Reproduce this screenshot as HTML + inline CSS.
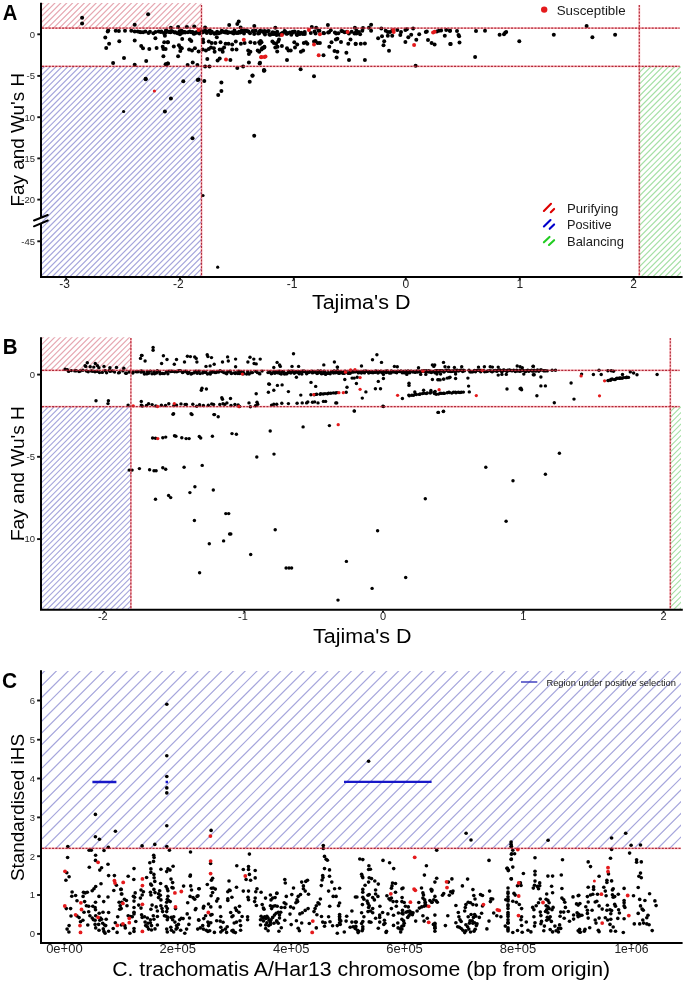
<!DOCTYPE html><html><head><meta charset="utf-8"><style>html,body{margin:0;padding:0;background:#fff;width:685px;height:983px;overflow:hidden}svg{display:block;will-change:transform}text{font-family:"Liberation Sans", sans-serif}.dash{stroke:#b02838;stroke-width:1.1;stroke-dasharray:2 1.35;fill:none}.dashbg{stroke:#f01020;stroke-opacity:0.32;stroke-width:1.8;fill:none}.ax{stroke:#000;stroke-width:2;fill:none}.tk{stroke:#111;stroke-width:1.9;fill:none}</style></head><body>
<svg width="685" height="983" viewBox="0 0 685 983">
<rect width="685" height="983" fill="#fff"/>
<clipPath id="c3"><rect x="42.00" y="3.00" width="159.50" height="25.10"/></clipPath>
<g clip-path="url(#c3)" stroke="#e6a8b2" stroke-width="1.20" opacity="1.00">
<path d="M10.17 30.10L39.27 1.00M16.06 30.10L45.16 1.00M21.95 30.10L51.05 1.00M27.84 30.10L56.94 1.00M33.73 30.10L62.83 1.00M39.62 30.10L68.72 1.00M45.51 30.10L74.61 1.00M51.40 30.10L80.50 1.00M57.29 30.10L86.39 1.00M63.18 30.10L92.28 1.00M69.07 30.10L98.17 1.00M74.96 30.10L104.06 1.00M80.85 30.10L109.95 1.00M86.74 30.10L115.84 1.00M92.63 30.10L121.73 1.00M98.52 30.10L127.62 1.00M104.41 30.10L133.51 1.00M110.30 30.10L139.40 1.00M116.19 30.10L145.29 1.00M122.08 30.10L151.18 1.00M127.97 30.10L157.07 1.00M133.86 30.10L162.96 1.00M139.75 30.10L168.85 1.00M145.64 30.10L174.74 1.00M151.53 30.10L180.63 1.00M157.42 30.10L186.52 1.00M163.31 30.10L192.41 1.00M169.20 30.10L198.30 1.00M175.09 30.10L204.19 1.00M180.98 30.10L210.08 1.00M186.87 30.10L215.97 1.00M192.76 30.10L221.86 1.00M198.65 30.10L227.75 1.00M204.54 30.10L233.64 1.00" fill="none"/>
</g>
<clipPath id="c4"><rect x="42.00" y="66.40" width="159.50" height="209.60"/></clipPath>
<g clip-path="url(#c4)" stroke="#a6a6dc" stroke-width="1.20" opacity="1.00">
<path d="M-172.94 278.00L40.66 64.40M-167.05 278.00L46.55 64.40M-161.16 278.00L52.44 64.40M-155.27 278.00L58.33 64.40M-149.38 278.00L64.22 64.40M-143.49 278.00L70.11 64.40M-137.60 278.00L76.00 64.40M-131.71 278.00L81.89 64.40M-125.82 278.00L87.78 64.40M-119.93 278.00L93.67 64.40M-114.04 278.00L99.56 64.40M-108.15 278.00L105.45 64.40M-102.26 278.00L111.34 64.40M-96.37 278.00L117.23 64.40M-90.48 278.00L123.12 64.40M-84.59 278.00L129.01 64.40M-78.70 278.00L134.90 64.40M-72.81 278.00L140.79 64.40M-66.92 278.00L146.68 64.40M-61.03 278.00L152.57 64.40M-55.14 278.00L158.46 64.40M-49.25 278.00L164.35 64.40M-43.36 278.00L170.24 64.40M-37.47 278.00L176.13 64.40M-31.58 278.00L182.02 64.40M-25.69 278.00L187.91 64.40M-19.80 278.00L193.80 64.40M-13.91 278.00L199.69 64.40M-8.02 278.00L205.58 64.40M-2.13 278.00L211.47 64.40M3.76 278.00L217.36 64.40M9.65 278.00L223.25 64.40M15.54 278.00L229.14 64.40M21.43 278.00L235.03 64.40M27.32 278.00L240.92 64.40M33.21 278.00L246.81 64.40M39.10 278.00L252.70 64.40M44.99 278.00L258.59 64.40M50.88 278.00L264.48 64.40M56.77 278.00L270.37 64.40M62.66 278.00L276.26 64.40M68.55 278.00L282.15 64.40M74.44 278.00L288.04 64.40M80.33 278.00L293.93 64.40M86.22 278.00L299.82 64.40M92.11 278.00L305.71 64.40M98.00 278.00L311.60 64.40M103.89 278.00L317.49 64.40M109.78 278.00L323.38 64.40M115.67 278.00L329.27 64.40M121.56 278.00L335.16 64.40M127.45 278.00L341.05 64.40M133.34 278.00L346.94 64.40M139.23 278.00L352.83 64.40M145.12 278.00L358.72 64.40M151.01 278.00L364.61 64.40M156.90 278.00L370.50 64.40M162.79 278.00L376.39 64.40M168.68 278.00L382.28 64.40M174.57 278.00L388.17 64.40M180.46 278.00L394.06 64.40M186.35 278.00L399.95 64.40M192.24 278.00L405.84 64.40M198.13 278.00L411.73 64.40M204.02 278.00L417.62 64.40" fill="none"/>
</g>
<clipPath id="c5"><rect x="639.00" y="66.40" width="42.00" height="209.60"/></clipPath>
<g clip-path="url(#c5)" stroke="#a6e0a6" stroke-width="1.20" opacity="1.00">
<path d="M421.95 278.00L635.55 64.40M427.84 278.00L641.44 64.40M433.73 278.00L647.33 64.40M439.62 278.00L653.22 64.40M445.51 278.00L659.11 64.40M451.40 278.00L665.00 64.40M457.29 278.00L670.89 64.40M463.18 278.00L676.78 64.40M469.07 278.00L682.67 64.40M474.96 278.00L688.56 64.40M480.85 278.00L694.45 64.40M486.74 278.00L700.34 64.40M492.63 278.00L706.23 64.40M498.52 278.00L712.12 64.40M504.41 278.00L718.01 64.40M510.30 278.00L723.90 64.40M516.19 278.00L729.79 64.40M522.08 278.00L735.68 64.40M527.97 278.00L741.57 64.40M533.86 278.00L747.46 64.40M539.75 278.00L753.35 64.40M545.64 278.00L759.24 64.40M551.53 278.00L765.13 64.40M557.42 278.00L771.02 64.40M563.31 278.00L776.91 64.40M569.20 278.00L782.80 64.40M575.09 278.00L788.69 64.40M580.98 278.00L794.58 64.40M586.87 278.00L800.47 64.40M592.76 278.00L806.36 64.40M598.65 278.00L812.25 64.40M604.54 278.00L818.14 64.40M610.43 278.00L824.03 64.40M616.32 278.00L829.92 64.40M622.21 278.00L835.81 64.40M628.10 278.00L841.70 64.40M633.99 278.00L847.59 64.40M639.88 278.00L853.48 64.40M645.77 278.00L859.37 64.40M651.66 278.00L865.26 64.40M657.55 278.00L871.15 64.40M663.44 278.00L877.04 64.40M669.33 278.00L882.93 64.40M675.22 278.00L888.82 64.40M681.11 278.00L894.71 64.40" fill="none"/>
</g>
<g fill="#000"><circle cx="82.1" cy="17.8" r="2.00"/><circle cx="82.1" cy="23.4" r="2.00"/><circle cx="148.1" cy="14.3" r="2.00"/><circle cx="134.7" cy="24.8" r="2.00"/><circle cx="108.2" cy="30.4" r="2.00"/><circle cx="107.7" cy="31.4" r="2.00"/><circle cx="115.7" cy="30.7" r="2.00"/><circle cx="118.9" cy="30.9" r="2.00"/><circle cx="125.0" cy="30.7" r="2.00"/><circle cx="131.3" cy="30.7" r="2.00"/><circle cx="134.7" cy="31.6" r="2.00"/><circle cx="137.7" cy="31.4" r="2.00"/><circle cx="139.7" cy="32.0" r="2.00"/><circle cx="140.9" cy="32.3" r="2.00"/><circle cx="143.1" cy="32.2" r="2.00"/><circle cx="145.4" cy="31.5" r="2.00"/><circle cx="148.5" cy="33.0" r="2.00"/><circle cx="150.0" cy="31.7" r="2.00"/><circle cx="153.4" cy="33.2" r="2.00"/><circle cx="155.5" cy="32.1" r="2.00"/><circle cx="158.7" cy="31.4" r="2.00"/><circle cx="160.7" cy="31.9" r="2.00"/><circle cx="161.3" cy="31.5" r="2.00"/><circle cx="163.9" cy="32.9" r="2.00"/><circle cx="165.9" cy="32.5" r="2.00"/><circle cx="169.2" cy="32.0" r="2.00"/><circle cx="105.3" cy="37.4" r="2.00"/><circle cx="109.1" cy="43.8" r="2.00"/><circle cx="106.2" cy="47.9" r="2.00"/><circle cx="119.3" cy="41.3" r="2.00"/><circle cx="134.7" cy="40.4" r="2.00"/><circle cx="155.4" cy="38.2" r="2.00"/><circle cx="164.9" cy="35.8" r="2.00"/><circle cx="141.2" cy="46.0" r="2.00"/><circle cx="143.0" cy="48.2" r="2.00"/><circle cx="149.3" cy="48.9" r="2.00"/><circle cx="156.6" cy="47.9" r="2.00"/><circle cx="162.7" cy="46.7" r="2.00"/><circle cx="163.4" cy="48.9" r="2.00"/><circle cx="165.6" cy="48.9" r="2.00"/><circle cx="164.2" cy="42.3" r="2.00"/><circle cx="167.8" cy="42.3" r="2.00"/><circle cx="124.0" cy="58.1" r="2.00"/><circle cx="113.1" cy="63.1" r="2.00"/><circle cx="134.7" cy="64.7" r="2.00"/><circle cx="146.2" cy="61.0" r="2.00"/><circle cx="163.4" cy="56.2" r="2.00"/><circle cx="165.6" cy="64.2" r="2.00"/><circle cx="167.8" cy="63.5" r="2.00"/><circle cx="145.6" cy="78.8" r="2.00"/><circle cx="170.8" cy="27.7" r="2.00"/><circle cx="178.1" cy="27.0" r="2.00"/><circle cx="186.9" cy="27.0" r="2.00"/><circle cx="194.2" cy="26.6" r="2.00"/><circle cx="205.1" cy="27.4" r="2.00"/><circle cx="229.2" cy="25.1" r="2.00"/><circle cx="237.3" cy="24.1" r="2.00"/><circle cx="238.7" cy="21.6" r="2.00"/><circle cx="240.6" cy="27.4" r="2.00"/><circle cx="254.3" cy="26.0" r="2.00"/><circle cx="165.9" cy="30.6" r="2.00"/><circle cx="166.8" cy="31.1" r="2.00"/><circle cx="169.5" cy="31.8" r="2.00"/><circle cx="170.5" cy="32.3" r="2.00"/><circle cx="172.4" cy="31.4" r="2.00"/><circle cx="174.7" cy="32.6" r="2.00"/><circle cx="175.4" cy="32.2" r="2.00"/><circle cx="177.5" cy="33.2" r="2.00"/><circle cx="179.5" cy="31.3" r="2.00"/><circle cx="181.6" cy="30.8" r="2.00"/><circle cx="182.4" cy="32.8" r="2.00"/><circle cx="183.6" cy="32.0" r="2.00"/><circle cx="185.1" cy="32.5" r="2.00"/><circle cx="187.9" cy="32.2" r="2.00"/><circle cx="189.8" cy="31.4" r="2.00"/><circle cx="191.2" cy="32.3" r="2.00"/><circle cx="192.6" cy="31.9" r="2.00"/><circle cx="194.7" cy="33.4" r="2.00"/><circle cx="195.8" cy="32.5" r="2.00"/><circle cx="196.8" cy="32.6" r="2.00"/><circle cx="199.4" cy="33.6" r="2.00"/><circle cx="201.4" cy="31.3" r="2.00"/><circle cx="202.3" cy="32.5" r="2.00"/><circle cx="203.4" cy="31.9" r="2.00"/><circle cx="205.3" cy="30.8" r="2.00"/><circle cx="206.8" cy="32.9" r="2.00"/><circle cx="208.5" cy="31.2" r="2.00"/><circle cx="210.7" cy="33.2" r="2.00"/><circle cx="211.8" cy="31.8" r="2.00"/><circle cx="214.2" cy="33.2" r="2.00"/><circle cx="216.4" cy="33.2" r="2.00"/><circle cx="217.1" cy="31.7" r="2.00"/><circle cx="218.9" cy="33.2" r="2.00"/><circle cx="221.6" cy="30.9" r="2.00"/><circle cx="222.0" cy="31.1" r="2.00"/><circle cx="223.7" cy="32.0" r="2.00"/><circle cx="226.0" cy="31.2" r="2.00"/><circle cx="226.7" cy="31.7" r="2.00"/><circle cx="228.9" cy="32.2" r="2.00"/><circle cx="231.6" cy="32.6" r="2.00"/><circle cx="232.5" cy="32.4" r="2.00"/><circle cx="234.5" cy="30.6" r="2.00"/><circle cx="236.5" cy="32.9" r="2.00"/><circle cx="238.1" cy="33.0" r="2.00"/><circle cx="239.0" cy="31.7" r="2.00"/><circle cx="240.2" cy="32.4" r="2.00"/><circle cx="241.8" cy="30.6" r="2.00"/><circle cx="243.7" cy="30.9" r="2.00"/><circle cx="245.6" cy="30.6" r="2.00"/><circle cx="246.7" cy="30.9" r="2.00"/><circle cx="248.5" cy="31.6" r="2.00"/><circle cx="250.0" cy="33.2" r="2.00"/><circle cx="252.7" cy="30.9" r="2.00"/><circle cx="253.8" cy="31.5" r="2.00"/><circle cx="255.6" cy="30.8" r="2.00"/><circle cx="258.1" cy="33.6" r="2.00"/><circle cx="259.1" cy="31.9" r="2.00"/><circle cx="260.1" cy="30.7" r="2.00"/><circle cx="262.2" cy="31.2" r="2.00"/><circle cx="264.7" cy="30.9" r="2.00"/><circle cx="167.9" cy="42.3" r="2.00"/><circle cx="182.2" cy="39.1" r="2.00"/><circle cx="189.8" cy="39.4" r="2.00"/><circle cx="191.3" cy="40.9" r="2.00"/><circle cx="173.8" cy="46.4" r="2.00"/><circle cx="178.9" cy="45.3" r="2.00"/><circle cx="180.3" cy="47.4" r="2.00"/><circle cx="181.8" cy="48.2" r="2.00"/><circle cx="180.3" cy="51.1" r="2.00"/><circle cx="189.1" cy="49.6" r="2.00"/><circle cx="192.0" cy="50.4" r="2.00"/><circle cx="194.9" cy="48.2" r="2.00"/><circle cx="198.6" cy="51.4" r="2.00"/><circle cx="178.1" cy="56.2" r="2.00"/><circle cx="167.9" cy="63.5" r="2.00"/><circle cx="166.5" cy="64.2" r="2.00"/><circle cx="187.6" cy="65.0" r="2.00"/><circle cx="192.7" cy="62.5" r="2.00"/><circle cx="197.4" cy="65.0" r="2.00"/><circle cx="203.0" cy="39.4" r="2.00"/><circle cx="203.2" cy="42.3" r="2.00"/><circle cx="208.8" cy="41.6" r="2.00"/><circle cx="211.7" cy="43.1" r="2.00"/><circle cx="215.4" cy="43.1" r="2.00"/><circle cx="220.5" cy="42.3" r="2.00"/><circle cx="216.8" cy="37.2" r="2.00"/><circle cx="225.6" cy="43.8" r="2.00"/><circle cx="228.5" cy="43.8" r="2.00"/><circle cx="232.2" cy="44.5" r="2.00"/><circle cx="235.8" cy="41.6" r="2.00"/><circle cx="240.9" cy="43.8" r="2.00"/><circle cx="244.6" cy="43.1" r="2.00"/><circle cx="250.4" cy="42.3" r="2.00"/><circle cx="254.8" cy="43.1" r="2.00"/><circle cx="259.2" cy="42.3" r="2.00"/><circle cx="260.6" cy="40.9" r="2.00"/><circle cx="202.7" cy="49.6" r="2.00"/><circle cx="205.9" cy="50.4" r="2.00"/><circle cx="208.8" cy="48.9" r="2.00"/><circle cx="211.0" cy="47.4" r="2.00"/><circle cx="213.9" cy="48.2" r="2.00"/><circle cx="214.6" cy="51.8" r="2.00"/><circle cx="219.7" cy="49.6" r="2.00"/><circle cx="222.7" cy="51.8" r="2.00"/><circle cx="224.1" cy="47.4" r="2.00"/><circle cx="221.9" cy="49.6" r="2.00"/><circle cx="232.2" cy="49.6" r="2.00"/><circle cx="236.5" cy="49.6" r="2.00"/><circle cx="248.2" cy="50.4" r="2.00"/><circle cx="250.4" cy="51.8" r="2.00"/><circle cx="248.9" cy="54.0" r="2.00"/><circle cx="257.7" cy="50.4" r="2.00"/><circle cx="259.2" cy="51.8" r="2.00"/><circle cx="262.1" cy="48.2" r="2.00"/><circle cx="264.3" cy="47.4" r="2.00"/><circle cx="207.3" cy="59.1" r="2.00"/><circle cx="217.6" cy="60.6" r="2.00"/><circle cx="219.7" cy="58.4" r="2.00"/><circle cx="230.4" cy="59.9" r="2.00"/><circle cx="248.9" cy="62.5" r="2.00"/><circle cx="259.6" cy="63.5" r="2.00"/><circle cx="205.1" cy="66.4" r="2.00"/><circle cx="209.5" cy="66.4" r="2.00"/><circle cx="237.3" cy="67.9" r="2.00"/><circle cx="243.1" cy="66.4" r="2.00"/><circle cx="252.6" cy="75.6" r="2.00"/><circle cx="264.0" cy="70.0" r="2.00"/><circle cx="198.6" cy="79.6" r="2.00"/><circle cx="275.3" cy="27.7" r="2.00"/><circle cx="311.8" cy="27.0" r="2.00"/><circle cx="316.2" cy="27.7" r="2.00"/><circle cx="327.9" cy="25.1" r="2.00"/><circle cx="354.9" cy="27.7" r="2.00"/><circle cx="265.0" cy="34.6" r="2.00"/><circle cx="267.2" cy="31.4" r="2.00"/><circle cx="268.7" cy="30.9" r="2.00"/><circle cx="270.2" cy="34.7" r="2.00"/><circle cx="272.1" cy="33.6" r="2.00"/><circle cx="272.7" cy="32.3" r="2.00"/><circle cx="274.0" cy="33.9" r="2.00"/><circle cx="276.0" cy="33.9" r="2.00"/><circle cx="277.2" cy="31.7" r="2.00"/><circle cx="279.4" cy="34.7" r="2.00"/><circle cx="280.9" cy="34.0" r="2.00"/><circle cx="282.3" cy="33.8" r="2.00"/><circle cx="282.9" cy="32.9" r="2.00"/><circle cx="284.6" cy="30.9" r="2.00"/><circle cx="285.5" cy="31.9" r="2.00"/><circle cx="287.3" cy="33.6" r="2.00"/><circle cx="289.8" cy="32.6" r="2.00"/><circle cx="291.3" cy="34.8" r="2.00"/><circle cx="292.8" cy="32.3" r="2.00"/><circle cx="293.1" cy="31.7" r="2.00"/><circle cx="294.6" cy="31.6" r="2.00"/><circle cx="296.7" cy="34.4" r="2.00"/><circle cx="298.4" cy="32.7" r="2.00"/><circle cx="299.6" cy="34.0" r="2.00"/><circle cx="300.3" cy="33.4" r="2.00"/><circle cx="302.9" cy="33.9" r="2.00"/><circle cx="304.2" cy="32.7" r="2.00"/><circle cx="304.8" cy="34.0" r="2.00"/><circle cx="310.8" cy="33.1" r="2.00"/><circle cx="314.5" cy="31.6" r="2.00"/><circle cx="315.5" cy="33.6" r="2.00"/><circle cx="318.5" cy="30.8" r="2.00"/><circle cx="319.4" cy="30.7" r="2.00"/><circle cx="323.4" cy="33.1" r="2.00"/><circle cx="324.0" cy="33.2" r="2.00"/><circle cx="328.1" cy="32.6" r="2.00"/><circle cx="329.0" cy="32.2" r="2.00"/><circle cx="330.8" cy="30.3" r="2.00"/><circle cx="334.9" cy="32.5" r="2.00"/><circle cx="336.2" cy="33.6" r="2.00"/><circle cx="338.3" cy="33.3" r="2.00"/><circle cx="341.4" cy="31.0" r="2.00"/><circle cx="342.4" cy="31.3" r="2.00"/><circle cx="344.6" cy="32.3" r="2.00"/><circle cx="347.0" cy="31.7" r="2.00"/><circle cx="348.9" cy="33.5" r="2.00"/><circle cx="351.7" cy="31.8" r="2.00"/><circle cx="354.5" cy="33.5" r="2.00"/><circle cx="356.4" cy="33.5" r="2.00"/><circle cx="358.9" cy="32.1" r="2.00"/><circle cx="261.5" cy="42.3" r="2.00"/><circle cx="260.0" cy="43.8" r="2.00"/><circle cx="272.4" cy="41.6" r="2.00"/><circle cx="273.9" cy="43.1" r="2.00"/><circle cx="276.1" cy="43.8" r="2.00"/><circle cx="279.0" cy="39.4" r="2.00"/><circle cx="278.2" cy="41.6" r="2.00"/><circle cx="264.4" cy="46.7" r="2.00"/><circle cx="262.9" cy="48.2" r="2.00"/><circle cx="261.5" cy="49.6" r="2.00"/><circle cx="275.3" cy="47.4" r="2.00"/><circle cx="277.5" cy="46.7" r="2.00"/><circle cx="281.9" cy="46.0" r="2.00"/><circle cx="277.2" cy="51.4" r="2.00"/><circle cx="287.0" cy="48.2" r="2.00"/><circle cx="288.5" cy="50.4" r="2.00"/><circle cx="290.7" cy="50.4" r="2.00"/><circle cx="294.3" cy="42.3" r="2.00"/><circle cx="297.2" cy="44.5" r="2.00"/><circle cx="295.0" cy="47.4" r="2.00"/><circle cx="303.8" cy="43.1" r="2.00"/><circle cx="306.0" cy="42.3" r="2.00"/><circle cx="307.4" cy="43.8" r="2.00"/><circle cx="300.9" cy="51.8" r="2.00"/><circle cx="303.1" cy="50.4" r="2.00"/><circle cx="314.0" cy="41.6" r="2.00"/><circle cx="315.5" cy="40.9" r="2.00"/><circle cx="317.7" cy="43.1" r="2.00"/><circle cx="319.9" cy="43.1" r="2.00"/><circle cx="331.5" cy="42.3" r="2.00"/><circle cx="329.3" cy="46.7" r="2.00"/><circle cx="335.9" cy="39.4" r="2.00"/><circle cx="337.4" cy="38.7" r="2.00"/><circle cx="341.0" cy="42.0" r="2.00"/><circle cx="350.5" cy="39.4" r="2.00"/><circle cx="348.3" cy="43.8" r="2.00"/><circle cx="355.6" cy="43.8" r="2.00"/><circle cx="334.5" cy="51.1" r="2.00"/><circle cx="337.4" cy="51.8" r="2.00"/><circle cx="346.4" cy="52.8" r="2.00"/><circle cx="336.6" cy="57.4" r="2.00"/><circle cx="349.0" cy="60.1" r="2.00"/><circle cx="323.5" cy="55.2" r="2.00"/><circle cx="287.0" cy="59.9" r="2.00"/><circle cx="260.0" cy="62.8" r="2.00"/><circle cx="264.4" cy="70.4" r="2.00"/><circle cx="300.6" cy="69.3" r="2.00"/><circle cx="314.0" cy="76.2" r="2.00"/><circle cx="371.1" cy="24.8" r="2.00"/><circle cx="368.9" cy="27.7" r="2.00"/><circle cx="363.0" cy="28.0" r="2.00"/><circle cx="356.5" cy="30.7" r="2.00"/><circle cx="355.7" cy="32.8" r="2.00"/><circle cx="362.3" cy="30.7" r="2.00"/><circle cx="360.1" cy="34.3" r="2.00"/><circle cx="371.1" cy="30.7" r="2.00"/><circle cx="381.3" cy="28.5" r="2.00"/><circle cx="385.7" cy="30.7" r="2.00"/><circle cx="387.8" cy="32.1" r="2.00"/><circle cx="390.0" cy="32.1" r="2.00"/><circle cx="392.2" cy="30.7" r="2.00"/><circle cx="397.3" cy="29.9" r="2.00"/><circle cx="401.0" cy="32.1" r="2.00"/><circle cx="400.3" cy="35.0" r="2.00"/><circle cx="405.4" cy="29.9" r="2.00"/><circle cx="406.8" cy="29.2" r="2.00"/><circle cx="413.1" cy="28.5" r="2.00"/><circle cx="411.2" cy="34.7" r="2.00"/><circle cx="408.3" cy="37.2" r="2.00"/><circle cx="419.2" cy="34.3" r="2.00"/><circle cx="425.8" cy="32.1" r="2.00"/><circle cx="426.8" cy="31.4" r="2.00"/><circle cx="436.8" cy="31.4" r="2.00"/><circle cx="438.9" cy="30.7" r="2.00"/><circle cx="441.1" cy="30.4" r="2.00"/><circle cx="446.2" cy="29.9" r="2.00"/><circle cx="449.9" cy="30.7" r="2.00"/><circle cx="444.8" cy="35.8" r="2.00"/><circle cx="382.0" cy="36.2" r="2.00"/><circle cx="378.1" cy="38.2" r="2.00"/><circle cx="387.8" cy="35.8" r="2.00"/><circle cx="392.2" cy="35.8" r="2.00"/><circle cx="384.2" cy="41.2" r="2.00"/><circle cx="383.5" cy="45.3" r="2.00"/><circle cx="360.8" cy="43.8" r="2.00"/><circle cx="364.9" cy="43.5" r="2.00"/><circle cx="355.7" cy="44.1" r="2.00"/><circle cx="405.4" cy="42.0" r="2.00"/><circle cx="416.3" cy="39.7" r="2.00"/><circle cx="428.0" cy="40.1" r="2.00"/><circle cx="431.6" cy="43.1" r="2.00"/><circle cx="434.6" cy="44.5" r="2.00"/><circle cx="450.2" cy="44.1" r="2.00"/><circle cx="389.0" cy="50.8" r="2.00"/><circle cx="364.9" cy="59.9" r="2.00"/><circle cx="415.6" cy="65.7" r="2.00"/><circle cx="450.0" cy="30.7" r="2.00"/><circle cx="457.0" cy="30.9" r="2.00"/><circle cx="458.5" cy="35.0" r="2.00"/><circle cx="459.1" cy="36.2" r="2.00"/><circle cx="450.7" cy="44.1" r="2.00"/><circle cx="459.5" cy="42.6" r="2.00"/><circle cx="476.0" cy="30.9" r="2.00"/><circle cx="485.0" cy="30.7" r="2.00"/><circle cx="499.6" cy="34.7" r="2.00"/><circle cx="504.0" cy="34.3" r="2.00"/><circle cx="506.2" cy="32.1" r="2.00"/><circle cx="505.2" cy="32.8" r="2.00"/><circle cx="519.3" cy="41.2" r="2.00"/><circle cx="475.1" cy="56.9" r="2.00"/><circle cx="553.8" cy="34.7" r="2.00"/><circle cx="586.6" cy="26.0" r="2.00"/><circle cx="592.4" cy="37.2" r="2.00"/><circle cx="615.1" cy="34.7" r="2.00"/><circle cx="145.7" cy="79.2" r="2.00"/><circle cx="183.3" cy="81.3" r="2.00"/><circle cx="197.7" cy="80.0" r="2.00"/><circle cx="204.3" cy="81.0" r="2.00"/><circle cx="170.9" cy="98.4" r="2.00"/><circle cx="164.9" cy="111.5" r="2.00"/><circle cx="192.5" cy="138.3" r="2.00"/><circle cx="221.4" cy="82.6" r="2.00"/><circle cx="221.4" cy="91.0" r="2.00"/><circle cx="218.2" cy="95.0" r="2.00"/><circle cx="252.4" cy="75.8" r="2.00"/><circle cx="249.7" cy="81.8" r="2.00"/><circle cx="263.9" cy="70.8" r="2.00"/><circle cx="254.2" cy="135.7" r="2.00"/><circle cx="123.6" cy="111.5" r="1.60"/><circle cx="203.0" cy="195.5" r="1.60"/><circle cx="217.7" cy="267.2" r="1.60"/><circle cx="269.4" cy="34.6" r="2.00"/><circle cx="272.8" cy="34.1" r="2.00"/><circle cx="274.4" cy="32.7" r="2.00"/><circle cx="276.6" cy="35.0" r="2.00"/><circle cx="280.7" cy="34.6" r="2.00"/><circle cx="282.0" cy="33.2" r="2.00"/><circle cx="286.4" cy="33.8" r="2.00"/><circle cx="287.3" cy="33.3" r="2.00"/><circle cx="292.1" cy="32.3" r="2.00"/><circle cx="292.9" cy="32.6" r="2.00"/><circle cx="297.1" cy="35.0" r="2.00"/><circle cx="298.3" cy="32.0" r="2.00"/><circle cx="301.2" cy="32.7" r="2.00"/><circle cx="304.7" cy="32.0" r="2.00"/><circle cx="171.6" cy="31.3" r="2.00"/><circle cx="179.4" cy="33.4" r="2.00"/><circle cx="180.0" cy="34.3" r="2.00"/><circle cx="184.7" cy="32.0" r="2.00"/><circle cx="193.7" cy="33.7" r="2.00"/><circle cx="197.2" cy="32.2" r="2.00"/><circle cx="199.4" cy="33.1" r="2.00"/><circle cx="203.8" cy="31.3" r="2.00"/><circle cx="209.8" cy="30.6" r="2.00"/><circle cx="214.6" cy="33.7" r="2.00"/><circle cx="220.8" cy="32.5" r="2.00"/><circle cx="225.3" cy="32.4" r="2.00"/><circle cx="227.7" cy="32.9" r="2.00"/><circle cx="233.7" cy="33.5" r="2.00"/><circle cx="240.8" cy="32.2" r="2.00"/><circle cx="244.0" cy="33.5" r="2.00"/><circle cx="248.0" cy="31.4" r="2.00"/><circle cx="254.2" cy="34.0" r="2.00"/><circle cx="259.2" cy="33.3" r="2.00"/><circle cx="264.3" cy="33.2" r="2.00"/></g>
<g fill="#e41a1c"><circle cx="198.6" cy="29.9" r="2.00"/><circle cx="243.8" cy="39.7" r="2.00"/><circle cx="226.0" cy="59.6" r="2.00"/><circle cx="261.1" cy="57.2" r="2.00"/><circle cx="264.3" cy="56.9" r="2.00"/><circle cx="308.9" cy="29.9" r="2.00"/><circle cx="281.9" cy="35.0" r="2.00"/><circle cx="319.9" cy="34.3" r="2.00"/><circle cx="347.6" cy="32.1" r="2.00"/><circle cx="314.0" cy="44.5" r="2.00"/><circle cx="318.7" cy="55.2" r="2.00"/><circle cx="261.5" cy="56.9" r="2.00"/><circle cx="265.5" cy="56.6" r="2.00"/><circle cx="393.3" cy="29.9" r="2.00"/><circle cx="393.7" cy="32.1" r="2.00"/><circle cx="433.1" cy="32.4" r="2.00"/><circle cx="434.6" cy="31.8" r="2.00"/><circle cx="414.1" cy="45.0" r="2.00"/><circle cx="154.4" cy="91.0" r="1.60"/></g>
<line x1="42.00" y1="28.10" x2="679.60" y2="28.10" class="dashbg"/><line x1="42.00" y1="28.10" x2="679.60" y2="28.10" class="dash"/>
<line x1="42.00" y1="66.40" x2="679.60" y2="66.40" class="dashbg"/><line x1="42.00" y1="66.40" x2="679.60" y2="66.40" class="dash"/>
<line x1="201.50" y1="4.90" x2="201.50" y2="276.00" class="dashbg"/><line x1="201.50" y1="4.90" x2="201.50" y2="276.00" class="dash"/>
<line x1="639.30" y1="4.90" x2="639.30" y2="276.00" class="dashbg"/><line x1="639.30" y1="4.90" x2="639.30" y2="276.00" class="dash"/>
<path class="ax" d="M41 2.8V217.7M41 223.5V277H682.6"/>
<path class="ax" d="M34 220.5L47.8 215M34 226.3L47.8 220.5" stroke-linecap="round"/>
<line class="tk" x1="37.3" y1="34.30" x2="40" y2="34.30"/>
<text x="35.00" y="37.65" font-size="9.50" fill="#2a2a2a" text-anchor="end" >0</text>
<line class="tk" x1="37.3" y1="75.90" x2="40" y2="75.90"/>
<text x="35.00" y="79.25" font-size="9.50" fill="#2a2a2a" text-anchor="end" >-5</text>
<line class="tk" x1="37.3" y1="117.20" x2="40" y2="117.20"/>
<text x="35.00" y="120.55" font-size="9.50" fill="#2a2a2a" text-anchor="end" >-10</text>
<line class="tk" x1="37.3" y1="158.40" x2="40" y2="158.40"/>
<text x="35.00" y="161.75" font-size="9.50" fill="#2a2a2a" text-anchor="end" >-15</text>
<line class="tk" x1="37.3" y1="199.60" x2="40" y2="199.60"/>
<text x="35.00" y="202.95" font-size="9.50" fill="#2a2a2a" text-anchor="end" >-20</text>
<line class="tk" x1="37.3" y1="241.30" x2="40" y2="241.30"/>
<text x="35.00" y="244.65" font-size="9.50" fill="#2a2a2a" text-anchor="end" >-45</text>
<line class="tk" x1="66.20" y1="278" x2="66.20" y2="280.5"/>
<text x="64.60" y="287.70" font-size="12.00" fill="#222" text-anchor="middle" >-3</text>
<line class="tk" x1="180.00" y1="278" x2="180.00" y2="280.5"/>
<text x="178.40" y="287.70" font-size="12.00" fill="#222" text-anchor="middle" >-2</text>
<line class="tk" x1="293.80" y1="278" x2="293.80" y2="280.5"/>
<text x="292.20" y="287.70" font-size="12.00" fill="#222" text-anchor="middle" >-1</text>
<line class="tk" x1="405.80" y1="278" x2="405.80" y2="280.5"/>
<text x="405.80" y="287.70" font-size="12.00" fill="#222" text-anchor="middle" >0</text>
<line class="tk" x1="519.80" y1="278" x2="519.80" y2="280.5"/>
<text x="519.80" y="287.70" font-size="12.00" fill="#222" text-anchor="middle" >1</text>
<line class="tk" x1="633.70" y1="278" x2="633.70" y2="280.5"/>
<text x="633.70" y="287.70" font-size="12.00" fill="#222" text-anchor="middle" >2</text>
<text x="311.90" y="308.90" font-size="20.00" fill="#000" text-anchor="start" textLength="98.60" lengthAdjust="spacingAndGlyphs" >Tajima&#39;s D</text>
<text x="24.00" y="206.50" font-size="18.80" fill="#000" text-anchor="start" textLength="133.60" lengthAdjust="spacingAndGlyphs" transform="rotate(-90 24.00 206.50)" >Fay and Wu&#39;s H</text>
<text x="2.80" y="19.60" font-size="22.00" fill="#000" text-anchor="start" font-weight="bold" textLength="14.60" lengthAdjust="spacingAndGlyphs" >A</text>
<circle cx="544.2" cy="9.6" r="3.2" fill="#e41a1c"/>
<text x="556.70" y="14.90" font-size="13.00" fill="#1a1a1a" text-anchor="start" textLength="69.00" lengthAdjust="spacingAndGlyphs" >Susceptible</text>
<path d="M543.9 211L551 203.8M550.8 212.2L554.1 208.9" stroke="#dd0000" stroke-width="2.1" stroke-linecap="round" fill="none"/>
<text x="567.00" y="212.60" font-size="13.00" fill="#1a1a1a" text-anchor="start" textLength="51.20" lengthAdjust="spacingAndGlyphs" >Purifying</text>
<path d="M543.9 226.5L550.5 220.1M549.7 228.8L554.1 224.4" stroke="#0000cc" stroke-width="2.1" stroke-linecap="round" fill="none"/>
<text x="567.00" y="228.99" font-size="13.00" fill="#1a1a1a" text-anchor="start" textLength="44.60" lengthAdjust="spacingAndGlyphs" >Positive</text>
<path d="M543.9 242.3L549.5 236.9M549 245L554.1 240.2" stroke="#22cc22" stroke-width="2.1" stroke-linecap="round" fill="none"/>
<text x="567.00" y="245.90" font-size="13.00" fill="#1a1a1a" text-anchor="start" textLength="56.90" lengthAdjust="spacingAndGlyphs" >Balancing</text>
<clipPath id="c49"><rect x="42.00" y="337.20" width="88.90" height="33.20"/></clipPath>
<g clip-path="url(#c49)" stroke="#e6a8b2" stroke-width="1.20" opacity="1.00">
<path d="M2.35 372.40L39.55 335.20M8.10 372.40L45.30 335.20M13.85 372.40L51.05 335.20M19.60 372.40L56.80 335.20M25.35 372.40L62.55 335.20M31.10 372.40L68.30 335.20M36.85 372.40L74.05 335.20M42.60 372.40L79.80 335.20M48.35 372.40L85.55 335.20M54.10 372.40L91.30 335.20M59.85 372.40L97.05 335.20M65.60 372.40L102.80 335.20M71.35 372.40L108.55 335.20M77.10 372.40L114.30 335.20M82.85 372.40L120.05 335.20M88.60 372.40L125.80 335.20M94.35 372.40L131.55 335.20M100.10 372.40L137.30 335.20M105.85 372.40L143.05 335.20M111.60 372.40L148.80 335.20M117.35 372.40L154.55 335.20M123.10 372.40L160.30 335.20M128.85 372.40L166.05 335.20M134.60 372.40L171.80 335.20" fill="none"/>
</g>
<clipPath id="c50"><rect x="42.00" y="406.60" width="88.90" height="202.40"/></clipPath>
<g clip-path="url(#c50)" stroke="#a6a6dc" stroke-width="1.20" opacity="1.00">
<path d="M-167.25 611.00L39.15 404.60M-161.50 611.00L44.90 404.60M-155.75 611.00L50.65 404.60M-150.00 611.00L56.40 404.60M-144.25 611.00L62.15 404.60M-138.50 611.00L67.90 404.60M-132.75 611.00L73.65 404.60M-127.00 611.00L79.40 404.60M-121.25 611.00L85.15 404.60M-115.50 611.00L90.90 404.60M-109.75 611.00L96.65 404.60M-104.00 611.00L102.40 404.60M-98.25 611.00L108.15 404.60M-92.50 611.00L113.90 404.60M-86.75 611.00L119.65 404.60M-81.00 611.00L125.40 404.60M-75.25 611.00L131.15 404.60M-69.50 611.00L136.90 404.60M-63.75 611.00L142.65 404.60M-58.00 611.00L148.40 404.60M-52.25 611.00L154.15 404.60M-46.50 611.00L159.90 404.60M-40.75 611.00L165.65 404.60M-35.00 611.00L171.40 404.60M-29.25 611.00L177.15 404.60M-23.50 611.00L182.90 404.60M-17.75 611.00L188.65 404.60M-12.00 611.00L194.40 404.60M-6.25 611.00L200.15 404.60M-0.50 611.00L205.90 404.60M5.25 611.00L211.65 404.60M11.00 611.00L217.40 404.60M16.75 611.00L223.15 404.60M22.50 611.00L228.90 404.60M28.25 611.00L234.65 404.60M34.00 611.00L240.40 404.60M39.75 611.00L246.15 404.60M45.50 611.00L251.90 404.60M51.25 611.00L257.65 404.60M57.00 611.00L263.40 404.60M62.75 611.00L269.15 404.60M68.50 611.00L274.90 404.60M74.25 611.00L280.65 404.60M80.00 611.00L286.40 404.60M85.75 611.00L292.15 404.60M91.50 611.00L297.90 404.60M97.25 611.00L303.65 404.60M103.00 611.00L309.40 404.60M108.75 611.00L315.15 404.60M114.50 611.00L320.90 404.60M120.25 611.00L326.65 404.60M126.00 611.00L332.40 404.60M131.75 611.00L338.15 404.60" fill="none"/>
</g>
<clipPath id="c51"><rect x="670.30" y="406.60" width="10.70" height="202.40"/></clipPath>
<g clip-path="url(#c51)" stroke="#a6e0a6" stroke-width="1.20" opacity="1.00">
<path d="M465.25 611.00L671.65 404.60M471.00 611.00L677.40 404.60M476.75 611.00L683.15 404.60M482.50 611.00L688.90 404.60M488.25 611.00L694.65 404.60M494.00 611.00L700.40 404.60M499.75 611.00L706.15 404.60M505.50 611.00L711.90 404.60M511.25 611.00L717.65 404.60M517.00 611.00L723.40 404.60M522.75 611.00L729.15 404.60M528.50 611.00L734.90 404.60M534.25 611.00L740.65 404.60M540.00 611.00L746.40 404.60M545.75 611.00L752.15 404.60M551.50 611.00L757.90 404.60M557.25 611.00L763.65 404.60M563.00 611.00L769.40 404.60M568.75 611.00L775.15 404.60M574.50 611.00L780.90 404.60M580.25 611.00L786.65 404.60M586.00 611.00L792.40 404.60M591.75 611.00L798.15 404.60M597.50 611.00L803.90 404.60M603.25 611.00L809.65 404.60M609.00 611.00L815.40 404.60M614.75 611.00L821.15 404.60M620.50 611.00L826.90 404.60M626.25 611.00L832.65 404.60M632.00 611.00L838.40 404.60M637.75 611.00L844.15 404.60M643.50 611.00L849.90 404.60M649.25 611.00L855.65 404.60M655.00 611.00L861.40 404.60M660.75 611.00L867.15 404.60M666.50 611.00L872.90 404.60M672.25 611.00L878.65 404.60M678.00 611.00L884.40 404.60M683.75 611.00L890.15 404.60" fill="none"/>
</g>
<g fill="#000"><circle cx="65.2" cy="369.2" r="1.72"/><circle cx="67.3" cy="369.7" r="1.72"/><circle cx="68.6" cy="371.4" r="1.72"/><circle cx="71.3" cy="370.6" r="1.72"/><circle cx="74.8" cy="370.9" r="1.72"/><circle cx="76.2" cy="370.8" r="1.72"/><circle cx="79.0" cy="371.6" r="1.72"/><circle cx="80.3" cy="371.0" r="1.72"/><circle cx="82.9" cy="370.3" r="1.72"/><circle cx="86.4" cy="371.0" r="1.72"/><circle cx="88.2" cy="371.8" r="1.72"/><circle cx="91.3" cy="371.0" r="1.72"/><circle cx="92.9" cy="371.2" r="1.72"/><circle cx="95.0" cy="371.8" r="1.72"/><circle cx="97.2" cy="371.4" r="1.72"/><circle cx="99.5" cy="372.6" r="1.72"/><circle cx="102.3" cy="372.4" r="1.72"/><circle cx="105.2" cy="370.8" r="1.72"/><circle cx="106.6" cy="372.7" r="1.72"/><circle cx="109.5" cy="370.5" r="1.72"/><circle cx="110.2" cy="371.4" r="1.72"/><circle cx="112.3" cy="370.9" r="1.72"/><circle cx="114.6" cy="372.1" r="1.72"/><circle cx="118.6" cy="372.9" r="1.72"/><circle cx="119.4" cy="372.4" r="1.72"/><circle cx="122.9" cy="370.9" r="1.72"/><circle cx="125.7" cy="373.2" r="1.72"/><circle cx="126.4" cy="373.2" r="1.72"/><circle cx="129.1" cy="372.0" r="1.72"/><circle cx="132.8" cy="373.0" r="1.72"/><circle cx="133.2" cy="371.9" r="1.72"/><circle cx="136.3" cy="371.7" r="1.72"/><circle cx="137.9" cy="371.7" r="1.72"/><circle cx="141.4" cy="370.9" r="1.72"/><circle cx="87.3" cy="362.7" r="1.72"/><circle cx="85.1" cy="365.7" r="1.72"/><circle cx="85.8" cy="366.4" r="1.72"/><circle cx="90.2" cy="366.8" r="1.72"/><circle cx="93.8" cy="367.1" r="1.72"/><circle cx="95.3" cy="363.5" r="1.72"/><circle cx="97.5" cy="365.7" r="1.72"/><circle cx="98.9" cy="367.8" r="1.72"/><circle cx="104.0" cy="366.4" r="1.72"/><circle cx="109.9" cy="367.8" r="1.72"/><circle cx="116.5" cy="367.4" r="1.72"/><circle cx="123.8" cy="368.3" r="1.72"/><circle cx="140.5" cy="358.4" r="1.72"/><circle cx="142.0" cy="355.4" r="1.72"/><circle cx="96.0" cy="400.7" r="1.72"/><circle cx="108.4" cy="400.7" r="1.72"/><circle cx="108.0" cy="403.6" r="1.72"/><circle cx="128.1" cy="405.1" r="1.72"/><circle cx="141.3" cy="401.4" r="1.72"/><circle cx="141.3" cy="405.1" r="1.72"/><circle cx="140.8" cy="372.1" r="1.72"/><circle cx="141.5" cy="371.7" r="1.72"/><circle cx="143.7" cy="372.3" r="1.72"/><circle cx="144.4" cy="374.0" r="1.72"/><circle cx="146.8" cy="373.9" r="1.72"/><circle cx="147.3" cy="371.5" r="1.72"/><circle cx="148.6" cy="373.3" r="1.72"/><circle cx="150.4" cy="371.1" r="1.72"/><circle cx="152.0" cy="373.7" r="1.72"/><circle cx="154.0" cy="371.5" r="1.72"/><circle cx="154.5" cy="373.8" r="1.72"/><circle cx="156.5" cy="373.0" r="1.72"/><circle cx="157.3" cy="370.8" r="1.72"/><circle cx="159.6" cy="372.1" r="1.72"/><circle cx="160.1" cy="373.8" r="1.72"/><circle cx="162.3" cy="373.4" r="1.72"/><circle cx="163.0" cy="373.6" r="1.72"/><circle cx="164.4" cy="373.6" r="1.72"/><circle cx="166.4" cy="371.8" r="1.72"/><circle cx="167.9" cy="373.8" r="1.72"/><circle cx="169.0" cy="371.1" r="1.72"/><circle cx="170.8" cy="371.5" r="1.72"/><circle cx="171.6" cy="371.2" r="1.72"/><circle cx="172.9" cy="371.4" r="1.72"/><circle cx="174.7" cy="371.7" r="1.72"/><circle cx="176.8" cy="371.7" r="1.72"/><circle cx="177.9" cy="371.3" r="1.72"/><circle cx="179.1" cy="370.7" r="1.72"/><circle cx="180.4" cy="370.7" r="1.72"/><circle cx="182.5" cy="372.6" r="1.72"/><circle cx="183.1" cy="372.3" r="1.72"/><circle cx="185.6" cy="371.1" r="1.72"/><circle cx="186.9" cy="372.2" r="1.72"/><circle cx="187.9" cy="373.5" r="1.72"/><circle cx="189.1" cy="372.4" r="1.72"/><circle cx="191.0" cy="374.0" r="1.72"/><circle cx="191.9" cy="373.5" r="1.72"/><circle cx="193.9" cy="372.9" r="1.72"/><circle cx="194.9" cy="371.9" r="1.72"/><circle cx="195.8" cy="371.2" r="1.72"/><circle cx="197.2" cy="373.2" r="1.72"/><circle cx="198.9" cy="371.3" r="1.72"/><circle cx="200.1" cy="373.6" r="1.72"/><circle cx="202.7" cy="373.0" r="1.72"/><circle cx="203.3" cy="371.6" r="1.72"/><circle cx="204.7" cy="372.3" r="1.72"/><circle cx="205.9" cy="372.2" r="1.72"/><circle cx="207.5" cy="374.0" r="1.72"/><circle cx="210.0" cy="372.6" r="1.72"/><circle cx="210.3" cy="374.0" r="1.72"/><circle cx="211.9" cy="372.0" r="1.72"/><circle cx="212.9" cy="372.0" r="1.72"/><circle cx="215.0" cy="372.5" r="1.72"/><circle cx="216.0" cy="372.5" r="1.72"/><circle cx="217.1" cy="371.7" r="1.72"/><circle cx="218.7" cy="372.1" r="1.72"/><circle cx="220.1" cy="370.8" r="1.72"/><circle cx="221.9" cy="371.6" r="1.72"/><circle cx="223.7" cy="372.6" r="1.72"/><circle cx="225.4" cy="373.0" r="1.72"/><circle cx="226.7" cy="373.8" r="1.72"/><circle cx="227.7" cy="371.9" r="1.72"/><circle cx="230.0" cy="371.3" r="1.72"/><circle cx="231.0" cy="373.0" r="1.72"/><circle cx="231.5" cy="373.6" r="1.72"/><circle cx="234.1" cy="372.9" r="1.72"/><circle cx="235.3" cy="373.6" r="1.72"/><circle cx="235.9" cy="372.6" r="1.72"/><circle cx="237.9" cy="373.6" r="1.72"/><circle cx="239.7" cy="373.6" r="1.72"/><circle cx="153.1" cy="347.4" r="1.72"/><circle cx="153.1" cy="350.3" r="1.72"/><circle cx="141.5" cy="355.4" r="1.72"/><circle cx="145.1" cy="361.0" r="1.72"/><circle cx="163.4" cy="355.7" r="1.72"/><circle cx="167.0" cy="359.5" r="1.72"/><circle cx="161.6" cy="363.5" r="1.72"/><circle cx="174.3" cy="364.2" r="1.72"/><circle cx="176.5" cy="359.5" r="1.72"/><circle cx="184.5" cy="362.0" r="1.72"/><circle cx="187.4" cy="356.2" r="1.72"/><circle cx="190.4" cy="356.6" r="1.72"/><circle cx="194.7" cy="356.9" r="1.72"/><circle cx="196.2" cy="358.4" r="1.72"/><circle cx="196.9" cy="362.0" r="1.72"/><circle cx="207.2" cy="354.7" r="1.72"/><circle cx="207.9" cy="356.6" r="1.72"/><circle cx="211.5" cy="357.6" r="1.72"/><circle cx="206.0" cy="366.4" r="1.72"/><circle cx="210.1" cy="365.9" r="1.72"/><circle cx="214.2" cy="364.2" r="1.72"/><circle cx="222.5" cy="362.0" r="1.72"/><circle cx="227.6" cy="356.9" r="1.72"/><circle cx="228.3" cy="361.0" r="1.72"/><circle cx="235.6" cy="359.1" r="1.72"/><circle cx="235.6" cy="366.8" r="1.72"/><circle cx="201.3" cy="390.2" r="1.72"/><circle cx="202.0" cy="388.3" r="1.72"/><circle cx="206.4" cy="389.0" r="1.72"/><circle cx="221.8" cy="397.8" r="1.72"/><circle cx="222.5" cy="399.2" r="1.72"/><circle cx="230.5" cy="398.5" r="1.72"/><circle cx="226.9" cy="402.9" r="1.72"/><circle cx="173.6" cy="413.8" r="1.72"/><circle cx="191.1" cy="413.8" r="1.72"/><circle cx="214.5" cy="414.6" r="1.72"/><circle cx="142.2" cy="406.0" r="1.72"/><circle cx="146.5" cy="405.5" r="1.72"/><circle cx="148.6" cy="403.8" r="1.72"/><circle cx="152.1" cy="404.6" r="1.72"/><circle cx="155.8" cy="405.9" r="1.72"/><circle cx="161.4" cy="405.3" r="1.72"/><circle cx="165.5" cy="405.5" r="1.72"/><circle cx="168.8" cy="403.7" r="1.72"/><circle cx="173.8" cy="405.6" r="1.72"/><circle cx="176.5" cy="405.1" r="1.72"/><circle cx="181.0" cy="403.9" r="1.72"/><circle cx="185.1" cy="404.4" r="1.72"/><circle cx="186.4" cy="404.4" r="1.72"/><circle cx="192.8" cy="404.2" r="1.72"/><circle cx="196.7" cy="406.2" r="1.72"/><circle cx="199.6" cy="404.7" r="1.72"/><circle cx="203.4" cy="405.5" r="1.72"/><circle cx="208.3" cy="405.3" r="1.72"/><circle cx="211.7" cy="403.9" r="1.72"/><circle cx="213.6" cy="404.4" r="1.72"/><circle cx="219.8" cy="404.5" r="1.72"/><circle cx="223.0" cy="403.7" r="1.72"/><circle cx="224.8" cy="404.4" r="1.72"/><circle cx="231.0" cy="405.5" r="1.72"/><circle cx="234.9" cy="404.5" r="1.72"/><circle cx="238.1" cy="404.9" r="1.72"/><circle cx="238.8" cy="371.3" r="1.72"/><circle cx="241.4" cy="371.6" r="1.72"/><circle cx="243.3" cy="373.9" r="1.72"/><circle cx="243.4" cy="372.4" r="1.72"/><circle cx="246.6" cy="374.0" r="1.72"/><circle cx="247.7" cy="371.8" r="1.72"/><circle cx="249.1" cy="374.0" r="1.72"/><circle cx="250.9" cy="372.8" r="1.72"/><circle cx="252.5" cy="372.6" r="1.72"/><circle cx="255.8" cy="371.4" r="1.72"/><circle cx="257.3" cy="372.6" r="1.72"/><circle cx="259.2" cy="373.2" r="1.72"/><circle cx="259.8" cy="373.9" r="1.72"/><circle cx="262.1" cy="371.1" r="1.72"/><circle cx="268.0" cy="372.6" r="1.72"/><circle cx="269.5" cy="372.0" r="1.72"/><circle cx="270.1" cy="372.1" r="1.72"/><circle cx="271.3" cy="373.7" r="1.72"/><circle cx="272.0" cy="373.4" r="1.72"/><circle cx="273.8" cy="371.4" r="1.72"/><circle cx="274.9" cy="373.3" r="1.72"/><circle cx="275.9" cy="371.9" r="1.72"/><circle cx="276.4" cy="372.2" r="1.72"/><circle cx="278.0" cy="372.9" r="1.72"/><circle cx="278.4" cy="372.3" r="1.72"/><circle cx="279.3" cy="371.1" r="1.72"/><circle cx="280.1" cy="373.6" r="1.72"/><circle cx="281.3" cy="374.0" r="1.72"/><circle cx="282.2" cy="371.8" r="1.72"/><circle cx="283.5" cy="371.6" r="1.72"/><circle cx="284.4" cy="374.0" r="1.72"/><circle cx="285.9" cy="373.5" r="1.72"/><circle cx="286.6" cy="373.9" r="1.72"/><circle cx="287.9" cy="372.7" r="1.72"/><circle cx="288.7" cy="371.1" r="1.72"/><circle cx="289.7" cy="372.4" r="1.72"/><circle cx="290.8" cy="373.0" r="1.72"/><circle cx="291.3" cy="371.1" r="1.72"/><circle cx="292.9" cy="371.3" r="1.72"/><circle cx="293.5" cy="372.0" r="1.72"/><circle cx="294.3" cy="373.3" r="1.72"/><circle cx="296.0" cy="371.8" r="1.72"/><circle cx="296.7" cy="371.9" r="1.72"/><circle cx="297.6" cy="372.2" r="1.72"/><circle cx="298.2" cy="371.4" r="1.72"/><circle cx="299.2" cy="373.8" r="1.72"/><circle cx="300.5" cy="371.6" r="1.72"/><circle cx="301.9" cy="374.1" r="1.72"/><circle cx="302.4" cy="371.3" r="1.72"/><circle cx="303.2" cy="371.2" r="1.72"/><circle cx="304.3" cy="371.2" r="1.72"/><circle cx="305.2" cy="371.7" r="1.72"/><circle cx="306.6" cy="373.7" r="1.72"/><circle cx="307.7" cy="372.2" r="1.72"/><circle cx="308.4" cy="372.6" r="1.72"/><circle cx="309.4" cy="372.0" r="1.72"/><circle cx="310.1" cy="371.8" r="1.72"/><circle cx="312.0" cy="371.3" r="1.72"/><circle cx="312.5" cy="372.9" r="1.72"/><circle cx="313.9" cy="371.6" r="1.72"/><circle cx="314.3" cy="371.7" r="1.72"/><circle cx="315.4" cy="372.3" r="1.72"/><circle cx="317.0" cy="373.6" r="1.72"/><circle cx="317.9" cy="370.9" r="1.72"/><circle cx="318.0" cy="373.1" r="1.72"/><circle cx="319.9" cy="372.4" r="1.72"/><circle cx="320.6" cy="370.9" r="1.72"/><circle cx="321.4" cy="373.8" r="1.72"/><circle cx="322.8" cy="373.6" r="1.72"/><circle cx="324.0" cy="371.6" r="1.72"/><circle cx="324.1" cy="371.3" r="1.72"/><circle cx="325.5" cy="373.0" r="1.72"/><circle cx="326.9" cy="373.1" r="1.72"/><circle cx="327.6" cy="373.3" r="1.72"/><circle cx="328.5" cy="372.6" r="1.72"/><circle cx="329.0" cy="373.3" r="1.72"/><circle cx="330.2" cy="373.8" r="1.72"/><circle cx="331.6" cy="371.8" r="1.72"/><circle cx="332.1" cy="371.6" r="1.72"/><circle cx="333.6" cy="373.0" r="1.72"/><circle cx="334.1" cy="371.0" r="1.72"/><circle cx="335.5" cy="372.7" r="1.72"/><circle cx="336.4" cy="371.5" r="1.72"/><circle cx="337.6" cy="370.8" r="1.72"/><circle cx="293.5" cy="353.7" r="1.72"/><circle cx="250.0" cy="357.2" r="1.72"/><circle cx="253.8" cy="359.1" r="1.72"/><circle cx="260.2" cy="359.1" r="1.72"/><circle cx="247.9" cy="362.0" r="1.72"/><circle cx="254.1" cy="363.5" r="1.72"/><circle cx="256.2" cy="363.9" r="1.72"/><circle cx="277.1" cy="362.4" r="1.72"/><circle cx="279.6" cy="364.9" r="1.72"/><circle cx="280.3" cy="366.4" r="1.72"/><circle cx="273.8" cy="367.4" r="1.72"/><circle cx="292.0" cy="366.4" r="1.72"/><circle cx="298.6" cy="366.4" r="1.72"/><circle cx="323.8" cy="364.9" r="1.72"/><circle cx="334.4" cy="362.0" r="1.72"/><circle cx="337.3" cy="367.1" r="1.72"/><circle cx="296.4" cy="377.3" r="1.72"/><circle cx="325.6" cy="374.4" r="1.72"/><circle cx="268.7" cy="383.9" r="1.72"/><circle cx="269.4" cy="384.3" r="1.72"/><circle cx="277.4" cy="385.4" r="1.72"/><circle cx="282.1" cy="384.9" r="1.72"/><circle cx="311.0" cy="382.4" r="1.72"/><circle cx="315.7" cy="386.4" r="1.72"/><circle cx="273.8" cy="390.2" r="1.72"/><circle cx="268.4" cy="392.2" r="1.72"/><circle cx="288.4" cy="391.6" r="1.72"/><circle cx="256.2" cy="393.7" r="1.72"/><circle cx="300.8" cy="395.1" r="1.72"/><circle cx="310.9" cy="394.8" r="1.72"/><circle cx="314.2" cy="394.7" r="1.72"/><circle cx="316.0" cy="394.4" r="1.72"/><circle cx="316.7" cy="394.2" r="1.72"/><circle cx="320.1" cy="394.2" r="1.72"/><circle cx="320.8" cy="393.8" r="1.72"/><circle cx="323.2" cy="394.0" r="1.72"/><circle cx="325.0" cy="393.6" r="1.72"/><circle cx="327.4" cy="393.8" r="1.72"/><circle cx="328.6" cy="393.2" r="1.72"/><circle cx="330.8" cy="393.2" r="1.72"/><circle cx="333.4" cy="392.9" r="1.72"/><circle cx="335.6" cy="393.0" r="1.72"/><circle cx="337.0" cy="392.6" r="1.72"/><circle cx="249.0" cy="402.9" r="1.72"/><circle cx="257.0" cy="402.2" r="1.72"/><circle cx="257.7" cy="404.3" r="1.72"/><circle cx="255.5" cy="405.8" r="1.72"/><circle cx="250.4" cy="406.8" r="1.72"/><circle cx="239.5" cy="406.5" r="1.72"/><circle cx="271.6" cy="405.1" r="1.72"/><circle cx="273.8" cy="404.3" r="1.72"/><circle cx="276.7" cy="404.3" r="1.72"/><circle cx="281.8" cy="403.3" r="1.72"/><circle cx="288.4" cy="403.6" r="1.72"/><circle cx="297.1" cy="403.3" r="1.72"/><circle cx="302.2" cy="402.9" r="1.72"/><circle cx="306.6" cy="402.9" r="1.72"/><circle cx="307.8" cy="401.9" r="1.72"/><circle cx="312.5" cy="402.2" r="1.72"/><circle cx="314.6" cy="401.9" r="1.72"/><circle cx="318.0" cy="402.9" r="1.72"/><circle cx="323.4" cy="401.4" r="1.72"/><circle cx="325.6" cy="401.4" r="1.72"/><circle cx="335.8" cy="402.9" r="1.72"/><circle cx="337.0" cy="372.0" r="1.72"/><circle cx="337.8" cy="371.8" r="1.72"/><circle cx="338.2" cy="373.0" r="1.72"/><circle cx="339.3" cy="373.4" r="1.72"/><circle cx="340.5" cy="371.7" r="1.72"/><circle cx="341.2" cy="372.2" r="1.72"/><circle cx="342.7" cy="373.3" r="1.72"/><circle cx="343.1" cy="372.1" r="1.72"/><circle cx="344.2" cy="373.4" r="1.72"/><circle cx="345.1" cy="371.3" r="1.72"/><circle cx="346.1" cy="372.1" r="1.72"/><circle cx="347.9" cy="373.1" r="1.72"/><circle cx="348.7" cy="373.4" r="1.72"/><circle cx="349.9" cy="371.9" r="1.72"/><circle cx="350.2" cy="373.2" r="1.72"/><circle cx="351.7" cy="371.2" r="1.72"/><circle cx="352.7" cy="372.0" r="1.72"/><circle cx="353.4" cy="371.9" r="1.72"/><circle cx="354.2" cy="371.2" r="1.72"/><circle cx="355.3" cy="371.9" r="1.72"/><circle cx="357.0" cy="371.4" r="1.72"/><circle cx="358.0" cy="371.6" r="1.72"/><circle cx="358.4" cy="372.9" r="1.72"/><circle cx="359.8" cy="372.1" r="1.72"/><circle cx="360.0" cy="372.1" r="1.72"/><circle cx="361.4" cy="373.1" r="1.72"/><circle cx="362.2" cy="371.9" r="1.72"/><circle cx="363.9" cy="371.1" r="1.72"/><circle cx="364.4" cy="372.9" r="1.72"/><circle cx="365.8" cy="371.2" r="1.72"/><circle cx="366.0" cy="371.2" r="1.72"/><circle cx="367.9" cy="371.6" r="1.72"/><circle cx="368.7" cy="373.0" r="1.72"/><circle cx="369.3" cy="371.6" r="1.72"/><circle cx="371.0" cy="372.4" r="1.72"/><circle cx="371.3" cy="372.6" r="1.72"/><circle cx="372.3" cy="371.6" r="1.72"/><circle cx="373.0" cy="372.7" r="1.72"/><circle cx="374.9" cy="372.4" r="1.72"/><circle cx="375.9" cy="371.0" r="1.72"/><circle cx="376.2" cy="372.0" r="1.72"/><circle cx="378.0" cy="373.1" r="1.72"/><circle cx="378.4" cy="371.5" r="1.72"/><circle cx="379.4" cy="372.0" r="1.72"/><circle cx="380.9" cy="371.3" r="1.72"/><circle cx="381.8" cy="372.6" r="1.72"/><circle cx="382.8" cy="372.6" r="1.72"/><circle cx="383.6" cy="371.6" r="1.72"/><circle cx="384.3" cy="371.7" r="1.72"/><circle cx="385.8" cy="371.1" r="1.72"/><circle cx="386.2" cy="372.6" r="1.72"/><circle cx="387.2" cy="371.0" r="1.72"/><circle cx="388.0" cy="372.1" r="1.72"/><circle cx="389.3" cy="373.0" r="1.72"/><circle cx="390.9" cy="373.0" r="1.72"/><circle cx="391.3" cy="371.0" r="1.72"/><circle cx="392.1" cy="371.9" r="1.72"/><circle cx="393.7" cy="371.8" r="1.72"/><circle cx="394.2" cy="371.8" r="1.72"/><circle cx="395.6" cy="372.3" r="1.72"/><circle cx="396.7" cy="372.7" r="1.72"/><circle cx="397.7" cy="371.1" r="1.72"/><circle cx="398.8" cy="371.4" r="1.72"/><circle cx="399.6" cy="371.6" r="1.72"/><circle cx="400.7" cy="371.2" r="1.72"/><circle cx="401.2" cy="371.3" r="1.72"/><circle cx="402.2" cy="372.7" r="1.72"/><circle cx="403.6" cy="371.5" r="1.72"/><circle cx="404.4" cy="372.9" r="1.72"/><circle cx="405.5" cy="371.3" r="1.72"/><circle cx="406.8" cy="372.2" r="1.72"/><circle cx="408.0" cy="370.9" r="1.72"/><circle cx="408.5" cy="372.5" r="1.72"/><circle cx="409.8" cy="372.7" r="1.72"/><circle cx="410.0" cy="371.4" r="1.72"/><circle cx="411.1" cy="371.1" r="1.72"/><circle cx="413.0" cy="372.0" r="1.72"/><circle cx="413.9" cy="371.5" r="1.72"/><circle cx="414.9" cy="371.7" r="1.72"/><circle cx="415.3" cy="372.4" r="1.72"/><circle cx="416.9" cy="370.9" r="1.72"/><circle cx="417.6" cy="372.0" r="1.72"/><circle cx="418.2" cy="371.5" r="1.72"/><circle cx="419.1" cy="371.1" r="1.72"/><circle cx="420.3" cy="371.9" r="1.72"/><circle cx="421.7" cy="371.1" r="1.72"/><circle cx="422.0" cy="371.3" r="1.72"/><circle cx="423.7" cy="371.0" r="1.72"/><circle cx="424.3" cy="371.0" r="1.72"/><circle cx="425.8" cy="371.8" r="1.72"/><circle cx="426.1" cy="370.8" r="1.72"/><circle cx="427.4" cy="371.8" r="1.72"/><circle cx="428.6" cy="370.8" r="1.72"/><circle cx="429.2" cy="372.1" r="1.72"/><circle cx="430.4" cy="371.2" r="1.72"/><circle cx="431.3" cy="372.6" r="1.72"/><circle cx="432.3" cy="371.8" r="1.72"/><circle cx="433.4" cy="371.4" r="1.72"/><circle cx="434.9" cy="372.7" r="1.72"/><circle cx="435.4" cy="370.9" r="1.72"/><circle cx="376.9" cy="354.7" r="1.72"/><circle cx="372.5" cy="359.8" r="1.72"/><circle cx="381.5" cy="362.4" r="1.72"/><circle cx="361.5" cy="366.0" r="1.72"/><circle cx="337.5" cy="367.1" r="1.72"/><circle cx="394.4" cy="366.4" r="1.72"/><circle cx="397.3" cy="366.8" r="1.72"/><circle cx="432.4" cy="364.9" r="1.72"/><circle cx="433.8" cy="366.4" r="1.72"/><circle cx="418.5" cy="367.8" r="1.72"/><circle cx="383.4" cy="374.4" r="1.72"/><circle cx="383.4" cy="378.5" r="1.72"/><circle cx="406.8" cy="374.4" r="1.72"/><circle cx="420.7" cy="374.4" r="1.72"/><circle cx="425.8" cy="374.4" r="1.72"/><circle cx="344.8" cy="379.5" r="1.72"/><circle cx="352.1" cy="378.1" r="1.72"/><circle cx="354.2" cy="378.1" r="1.72"/><circle cx="357.2" cy="377.3" r="1.72"/><circle cx="378.3" cy="381.4" r="1.72"/><circle cx="432.4" cy="379.5" r="1.72"/><circle cx="356.4" cy="383.5" r="1.72"/><circle cx="347.0" cy="387.3" r="1.72"/><circle cx="409.0" cy="383.2" r="1.72"/><circle cx="409.0" cy="385.4" r="1.72"/><circle cx="375.4" cy="388.7" r="1.72"/><circle cx="380.5" cy="388.7" r="1.72"/><circle cx="365.9" cy="391.9" r="1.72"/><circle cx="346.2" cy="392.2" r="1.72"/><circle cx="362.3" cy="398.1" r="1.72"/><circle cx="402.4" cy="398.5" r="1.72"/><circle cx="408.8" cy="395.1" r="1.72"/><circle cx="409.3" cy="395.8" r="1.72"/><circle cx="411.8" cy="395.3" r="1.72"/><circle cx="413.6" cy="395.2" r="1.72"/><circle cx="415.4" cy="394.2" r="1.72"/><circle cx="416.4" cy="394.5" r="1.72"/><circle cx="419.3" cy="394.4" r="1.72"/><circle cx="420.1" cy="394.0" r="1.72"/><circle cx="422.4" cy="393.6" r="1.72"/><circle cx="423.8" cy="393.2" r="1.72"/><circle cx="426.2" cy="393.5" r="1.72"/><circle cx="427.3" cy="393.0" r="1.72"/><circle cx="430.3" cy="393.0" r="1.72"/><circle cx="431.0" cy="392.1" r="1.72"/><circle cx="434.1" cy="392.5" r="1.72"/><circle cx="435.1" cy="391.5" r="1.72"/><circle cx="414.8" cy="391.9" r="1.72"/><circle cx="423.6" cy="390.2" r="1.72"/><circle cx="430.9" cy="390.5" r="1.72"/><circle cx="336.7" cy="402.9" r="1.72"/><circle cx="383.4" cy="406.5" r="1.72"/><circle cx="354.2" cy="410.9" r="1.72"/><circle cx="435.0" cy="371.1" r="1.72"/><circle cx="436.0" cy="371.5" r="1.72"/><circle cx="436.9" cy="370.6" r="1.72"/><circle cx="437.9" cy="370.7" r="1.72"/><circle cx="438.6" cy="371.9" r="1.72"/><circle cx="440.0" cy="370.6" r="1.72"/><circle cx="440.4" cy="371.0" r="1.72"/><circle cx="441.8" cy="371.0" r="1.72"/><circle cx="442.4" cy="370.7" r="1.72"/><circle cx="444.0" cy="372.0" r="1.72"/><circle cx="444.4" cy="371.3" r="1.72"/><circle cx="446.1" cy="370.3" r="1.72"/><circle cx="447.3" cy="370.4" r="1.72"/><circle cx="448.1" cy="371.3" r="1.72"/><circle cx="449.1" cy="370.8" r="1.72"/><circle cx="449.9" cy="371.3" r="1.72"/><circle cx="451.0" cy="371.5" r="1.72"/><circle cx="452.0" cy="371.0" r="1.72"/><circle cx="452.6" cy="371.4" r="1.72"/><circle cx="454.1" cy="370.6" r="1.72"/><circle cx="455.5" cy="371.7" r="1.72"/><circle cx="456.2" cy="370.4" r="1.72"/><circle cx="457.2" cy="370.3" r="1.72"/><circle cx="457.9" cy="370.9" r="1.72"/><circle cx="458.9" cy="370.9" r="1.72"/><circle cx="460.4" cy="370.1" r="1.72"/><circle cx="461.5" cy="370.2" r="1.72"/><circle cx="462.7" cy="371.6" r="1.72"/><circle cx="463.5" cy="370.1" r="1.72"/><circle cx="464.5" cy="370.8" r="1.72"/><circle cx="469.0" cy="370.3" r="1.72"/><circle cx="470.0" cy="371.9" r="1.72"/><circle cx="471.0" cy="371.6" r="1.72"/><circle cx="471.5" cy="371.9" r="1.72"/><circle cx="472.9" cy="371.8" r="1.72"/><circle cx="474.5" cy="370.4" r="1.72"/><circle cx="475.5" cy="371.7" r="1.72"/><circle cx="475.8" cy="370.7" r="1.72"/><circle cx="477.6" cy="370.3" r="1.72"/><circle cx="478.9" cy="370.5" r="1.72"/><circle cx="479.9" cy="370.3" r="1.72"/><circle cx="480.7" cy="371.7" r="1.72"/><circle cx="481.4" cy="370.5" r="1.72"/><circle cx="482.9" cy="370.6" r="1.72"/><circle cx="483.4" cy="370.4" r="1.72"/><circle cx="484.7" cy="371.7" r="1.72"/><circle cx="486.3" cy="371.6" r="1.72"/><circle cx="486.9" cy="371.4" r="1.72"/><circle cx="487.9" cy="371.0" r="1.72"/><circle cx="489.6" cy="370.6" r="1.72"/><circle cx="491.0" cy="371.0" r="1.72"/><circle cx="491.7" cy="371.6" r="1.72"/><circle cx="492.3" cy="371.8" r="1.72"/><circle cx="494.0" cy="370.7" r="1.72"/><circle cx="495.3" cy="370.5" r="1.72"/><circle cx="496.6" cy="371.0" r="1.72"/><circle cx="497.0" cy="371.3" r="1.72"/><circle cx="498.2" cy="370.3" r="1.72"/><circle cx="499.6" cy="370.0" r="1.72"/><circle cx="500.8" cy="370.4" r="1.72"/><circle cx="501.7" cy="371.7" r="1.72"/><circle cx="502.7" cy="371.1" r="1.72"/><circle cx="503.5" cy="369.9" r="1.72"/><circle cx="504.3" cy="370.2" r="1.72"/><circle cx="506.1" cy="370.7" r="1.72"/><circle cx="507.1" cy="371.5" r="1.72"/><circle cx="507.7" cy="370.3" r="1.72"/><circle cx="509.4" cy="370.0" r="1.72"/><circle cx="509.8" cy="370.5" r="1.72"/><circle cx="511.0" cy="370.5" r="1.72"/><circle cx="512.2" cy="370.9" r="1.72"/><circle cx="513.7" cy="370.3" r="1.72"/><circle cx="514.9" cy="370.7" r="1.72"/><circle cx="515.4" cy="371.6" r="1.72"/><circle cx="516.7" cy="370.1" r="1.72"/><circle cx="517.6" cy="371.0" r="1.72"/><circle cx="519.6" cy="371.3" r="1.72"/><circle cx="520.1" cy="370.3" r="1.72"/><circle cx="520.8" cy="371.0" r="1.72"/><circle cx="522.5" cy="370.5" r="1.72"/><circle cx="523.7" cy="370.6" r="1.72"/><circle cx="525.1" cy="371.2" r="1.72"/><circle cx="525.5" cy="371.5" r="1.72"/><circle cx="526.3" cy="370.8" r="1.72"/><circle cx="527.8" cy="370.3" r="1.72"/><circle cx="528.6" cy="371.2" r="1.72"/><circle cx="529.6" cy="370.8" r="1.72"/><circle cx="531.7" cy="370.1" r="1.72"/><circle cx="532.0" cy="370.9" r="1.72"/><circle cx="533.5" cy="371.0" r="1.72"/><circle cx="443.5" cy="362.4" r="1.72"/><circle cx="445.0" cy="366.8" r="1.72"/><circle cx="448.6" cy="367.1" r="1.72"/><circle cx="454.4" cy="367.4" r="1.72"/><circle cx="461.7" cy="366.8" r="1.72"/><circle cx="478.5" cy="367.1" r="1.72"/><circle cx="484.4" cy="366.8" r="1.72"/><circle cx="490.2" cy="366.8" r="1.72"/><circle cx="492.4" cy="367.1" r="1.72"/><circle cx="498.2" cy="367.1" r="1.72"/><circle cx="517.2" cy="366.0" r="1.72"/><circle cx="520.1" cy="366.8" r="1.72"/><circle cx="522.3" cy="367.8" r="1.72"/><circle cx="533.3" cy="366.4" r="1.72"/><circle cx="434.7" cy="364.9" r="1.72"/><circle cx="436.9" cy="374.1" r="1.72"/><circle cx="440.6" cy="374.1" r="1.72"/><circle cx="455.6" cy="374.1" r="1.72"/><circle cx="498.2" cy="375.1" r="1.72"/><circle cx="501.9" cy="374.4" r="1.72"/><circle cx="506.3" cy="374.4" r="1.72"/><circle cx="523.8" cy="374.1" r="1.72"/><circle cx="533.3" cy="374.7" r="1.72"/><circle cx="455.6" cy="378.5" r="1.72"/><circle cx="467.9" cy="378.1" r="1.72"/><circle cx="468.6" cy="386.1" r="1.72"/><circle cx="469.3" cy="391.9" r="1.72"/><circle cx="507.0" cy="389.0" r="1.72"/><circle cx="520.1" cy="388.7" r="1.72"/><circle cx="521.6" cy="389.7" r="1.72"/><circle cx="520.9" cy="388.3" r="1.72"/><circle cx="438.4" cy="412.4" r="1.72"/><circle cx="443.5" cy="411.2" r="1.72"/><circle cx="437.8" cy="379.7" r="1.72"/><circle cx="438.7" cy="379.6" r="1.72"/><circle cx="440.1" cy="379.9" r="1.72"/><circle cx="443.4" cy="379.1" r="1.72"/><circle cx="443.9" cy="379.1" r="1.72"/><circle cx="447.2" cy="378.1" r="1.72"/><circle cx="449.1" cy="377.7" r="1.72"/><circle cx="450.0" cy="377.2" r="1.72"/><circle cx="434.4" cy="393.5" r="1.72"/><circle cx="436.2" cy="394.2" r="1.72"/><circle cx="438.5" cy="394.1" r="1.72"/><circle cx="440.2" cy="393.3" r="1.72"/><circle cx="441.6" cy="393.4" r="1.72"/><circle cx="443.6" cy="393.3" r="1.72"/><circle cx="444.4" cy="393.4" r="1.72"/><circle cx="447.2" cy="392.7" r="1.72"/><circle cx="448.8" cy="392.3" r="1.72"/><circle cx="449.4" cy="392.5" r="1.72"/><circle cx="451.8" cy="393.1" r="1.72"/><circle cx="453.5" cy="392.3" r="1.72"/><circle cx="455.4" cy="392.1" r="1.72"/><circle cx="456.0" cy="392.8" r="1.72"/><circle cx="458.3" cy="392.3" r="1.72"/><circle cx="460.0" cy="392.5" r="1.72"/><circle cx="461.4" cy="392.2" r="1.72"/><circle cx="463.4" cy="392.1" r="1.72"/><circle cx="532.6" cy="370.9" r="1.72"/><circle cx="534.1" cy="370.3" r="1.72"/><circle cx="534.9" cy="370.8" r="1.72"/><circle cx="536.1" cy="371.1" r="1.72"/><circle cx="537.5" cy="369.9" r="1.72"/><circle cx="538.8" cy="371.2" r="1.72"/><circle cx="540.5" cy="370.0" r="1.72"/><circle cx="541.4" cy="369.9" r="1.72"/><circle cx="543.6" cy="370.7" r="1.72"/><circle cx="544.9" cy="370.9" r="1.72"/><circle cx="545.4" cy="370.6" r="1.72"/><circle cx="547.2" cy="370.9" r="1.72"/><circle cx="533.1" cy="366.3" r="1.72"/><circle cx="552.1" cy="370.3" r="1.72"/><circle cx="555.5" cy="370.3" r="1.72"/><circle cx="534.2" cy="374.8" r="1.72"/><circle cx="540.9" cy="377.0" r="1.72"/><circle cx="581.6" cy="374.1" r="1.72"/><circle cx="593.4" cy="374.5" r="1.72"/><circle cx="601.2" cy="374.5" r="1.72"/><circle cx="599.0" cy="370.3" r="1.72"/><circle cx="607.9" cy="370.7" r="1.72"/><circle cx="611.3" cy="370.7" r="1.72"/><circle cx="613.5" cy="371.2" r="1.72"/><circle cx="571.1" cy="383.0" r="1.72"/><circle cx="540.9" cy="385.9" r="1.72"/><circle cx="545.4" cy="385.9" r="1.72"/><circle cx="536.9" cy="395.8" r="1.72"/><circle cx="554.3" cy="402.7" r="1.72"/><circle cx="574.0" cy="399.1" r="1.72"/><circle cx="622.5" cy="374.5" r="1.72"/><circle cx="630.3" cy="371.9" r="1.72"/><circle cx="633.6" cy="373.0" r="1.72"/><circle cx="637.0" cy="374.8" r="1.72"/><circle cx="657.1" cy="374.5" r="1.72"/><circle cx="608.0" cy="380.6" r="1.72"/><circle cx="608.3" cy="380.5" r="1.72"/><circle cx="610.6" cy="380.3" r="1.72"/><circle cx="610.8" cy="379.4" r="1.72"/><circle cx="612.1" cy="379.0" r="1.72"/><circle cx="614.2" cy="379.6" r="1.72"/><circle cx="615.2" cy="379.5" r="1.72"/><circle cx="616.4" cy="378.6" r="1.72"/><circle cx="617.0" cy="378.3" r="1.72"/><circle cx="619.0" cy="378.2" r="1.72"/><circle cx="619.7" cy="378.3" r="1.72"/><circle cx="620.6" cy="378.0" r="1.72"/><circle cx="622.1" cy="378.3" r="1.72"/><circle cx="623.5" cy="377.6" r="1.72"/><circle cx="625.5" cy="377.6" r="1.72"/><circle cx="626.6" cy="377.5" r="1.72"/><circle cx="626.8" cy="377.3" r="1.72"/><circle cx="628.5" cy="377.4" r="1.72"/><circle cx="173.0" cy="414.3" r="1.72"/><circle cx="192.0" cy="414.6" r="1.72"/><circle cx="213.9" cy="414.6" r="1.72"/><circle cx="218.2" cy="416.7" r="1.72"/><circle cx="152.6" cy="438.0" r="1.72"/><circle cx="155.5" cy="438.3" r="1.72"/><circle cx="162.8" cy="437.7" r="1.72"/><circle cx="165.7" cy="437.1" r="1.72"/><circle cx="174.5" cy="435.7" r="1.72"/><circle cx="175.9" cy="436.2" r="1.72"/><circle cx="181.8" cy="437.7" r="1.72"/><circle cx="186.1" cy="438.6" r="1.72"/><circle cx="189.1" cy="438.6" r="1.72"/><circle cx="199.3" cy="436.5" r="1.72"/><circle cx="200.7" cy="438.0" r="1.72"/><circle cx="212.4" cy="436.2" r="1.72"/><circle cx="232.0" cy="433.6" r="1.72"/><circle cx="236.4" cy="434.2" r="1.72"/><circle cx="270.2" cy="431.0" r="1.72"/><circle cx="256.8" cy="457.0" r="1.72"/><circle cx="274.0" cy="454.1" r="1.72"/><circle cx="129.2" cy="470.1" r="1.72"/><circle cx="132.1" cy="470.1" r="1.72"/><circle cx="139.4" cy="468.6" r="1.72"/><circle cx="149.6" cy="469.8" r="1.72"/><circle cx="154.0" cy="470.7" r="1.72"/><circle cx="156.1" cy="470.7" r="1.72"/><circle cx="162.8" cy="467.8" r="1.72"/><circle cx="165.7" cy="469.2" r="1.72"/><circle cx="184.1" cy="467.2" r="1.72"/><circle cx="202.2" cy="465.4" r="1.72"/><circle cx="194.9" cy="486.8" r="1.72"/><circle cx="189.9" cy="492.6" r="1.72"/><circle cx="213.3" cy="490.0" r="1.72"/><circle cx="155.5" cy="499.3" r="1.72"/><circle cx="168.6" cy="495.5" r="1.72"/><circle cx="170.7" cy="497.6" r="1.72"/><circle cx="303.1" cy="426.9" r="1.72"/><circle cx="329.4" cy="425.6" r="1.72"/><circle cx="354.4" cy="411.1" r="1.72"/><circle cx="382.9" cy="406.3" r="1.72"/><circle cx="438.0" cy="412.4" r="1.72"/><circle cx="443.3" cy="411.6" r="1.72"/><circle cx="485.8" cy="467.2" r="1.72"/><circle cx="513.0" cy="480.8" r="1.72"/><circle cx="545.4" cy="474.2" r="1.72"/><circle cx="559.4" cy="453.2" r="1.72"/><circle cx="425.3" cy="498.7" r="1.72"/><circle cx="225.8" cy="513.6" r="1.72"/><circle cx="228.7" cy="513.6" r="1.72"/><circle cx="194.4" cy="520.5" r="1.72"/><circle cx="275.2" cy="529.7" r="1.72"/><circle cx="229.6" cy="534.0" r="1.72"/><circle cx="230.8" cy="534.0" r="1.72"/><circle cx="223.6" cy="540.9" r="1.72"/><circle cx="209.3" cy="543.7" r="1.72"/><circle cx="250.7" cy="554.5" r="1.72"/><circle cx="286.1" cy="568.0" r="1.72"/><circle cx="289.0" cy="568.0" r="1.72"/><circle cx="291.6" cy="568.0" r="1.72"/><circle cx="199.6" cy="572.7" r="1.72"/><circle cx="346.4" cy="561.4" r="1.72"/><circle cx="338.0" cy="600.1" r="1.72"/><circle cx="377.6" cy="530.8" r="1.72"/><circle cx="506.1" cy="521.3" r="1.72"/><circle cx="405.7" cy="577.5" r="1.72"/><circle cx="372.1" cy="588.4" r="1.72"/></g>
<g fill="#e41a1c"><circle cx="133.2" cy="405.8" r="1.65"/><circle cx="157.5" cy="406.5" r="1.65"/><circle cx="174.3" cy="403.6" r="1.65"/><circle cx="242.4" cy="374.1" r="1.65"/><circle cx="313.8" cy="394.6" r="1.65"/><circle cx="238.7" cy="406.5" r="1.65"/><circle cx="345.5" cy="372.2" r="1.65"/><circle cx="350.6" cy="370.0" r="1.65"/><circle cx="355.0" cy="369.7" r="1.65"/><circle cx="422.9" cy="371.2" r="1.65"/><circle cx="360.1" cy="377.6" r="1.65"/><circle cx="360.1" cy="389.3" r="1.65"/><circle cx="338.9" cy="392.7" r="1.65"/><circle cx="343.3" cy="392.7" r="1.65"/><circle cx="397.6" cy="395.3" r="1.65"/><circle cx="482.2" cy="370.3" r="1.65"/><circle cx="439.1" cy="389.7" r="1.65"/><circle cx="476.3" cy="395.6" r="1.65"/><circle cx="581.1" cy="375.9" r="1.65"/><circle cx="604.6" cy="380.8" r="1.65"/><circle cx="599.5" cy="395.8" r="1.60"/><circle cx="157.8" cy="438.6" r="1.65"/><circle cx="338.2" cy="424.7" r="1.65"/></g>
<line x1="42.00" y1="370.40" x2="679.60" y2="370.40" class="dashbg"/><line x1="42.00" y1="370.40" x2="679.60" y2="370.40" class="dash"/>
<line x1="42.00" y1="406.60" x2="679.60" y2="406.60" class="dashbg"/><line x1="42.00" y1="406.60" x2="679.60" y2="406.60" class="dash"/>
<line x1="130.90" y1="338.00" x2="130.90" y2="609.00" class="dashbg"/><line x1="130.90" y1="338.00" x2="130.90" y2="609.00" class="dash"/>
<line x1="670.30" y1="338.00" x2="670.30" y2="609.00" class="dashbg"/><line x1="670.30" y1="338.00" x2="670.30" y2="609.00" class="dash"/>
<path class="ax" d="M41 337.2V609.8H682.8"/>
<line class="tk" x1="37.1" y1="374.60" x2="40" y2="374.60"/>
<text x="35.00" y="377.95" font-size="9.50" fill="#2a2a2a" text-anchor="end" >0</text>
<line class="tk" x1="37.1" y1="456.80" x2="40" y2="456.80"/>
<text x="35.00" y="460.15" font-size="9.50" fill="#2a2a2a" text-anchor="end" >-5</text>
<line class="tk" x1="37.1" y1="539.10" x2="40" y2="539.10"/>
<text x="35.00" y="542.45" font-size="9.50" fill="#2a2a2a" text-anchor="end" >-10</text>
<line class="tk" x1="104.20" y1="610.8" x2="104.20" y2="612.5"/>
<text x="102.80" y="620.30" font-size="11.00" fill="#222" text-anchor="middle" >-2</text>
<line class="tk" x1="244.30" y1="610.8" x2="244.30" y2="612.5"/>
<text x="242.90" y="620.30" font-size="11.00" fill="#222" text-anchor="middle" >-1</text>
<line class="tk" x1="383.00" y1="610.8" x2="383.00" y2="612.5"/>
<text x="383.00" y="620.30" font-size="11.00" fill="#222" text-anchor="middle" >0</text>
<line class="tk" x1="523.40" y1="610.8" x2="523.40" y2="612.5"/>
<text x="523.40" y="620.30" font-size="11.00" fill="#222" text-anchor="middle" >1</text>
<line class="tk" x1="663.60" y1="610.8" x2="663.60" y2="612.5"/>
<text x="663.60" y="620.30" font-size="11.00" fill="#222" text-anchor="middle" >2</text>
<text x="313.00" y="642.90" font-size="20.00" fill="#000" text-anchor="start" textLength="98.50" lengthAdjust="spacingAndGlyphs" >Tajima&#39;s D</text>
<text x="24.30" y="541.10" font-size="18.80" fill="#000" text-anchor="start" textLength="135.00" lengthAdjust="spacingAndGlyphs" transform="rotate(-90 24.30 541.10)" >Fay and Wu&#39;s H</text>
<text x="2.70" y="353.60" font-size="22.00" fill="#000" text-anchor="start" font-weight="bold" textLength="14.80" lengthAdjust="spacingAndGlyphs" >B</text>
<clipPath id="c78"><rect x="42.00" y="671.00" width="639.00" height="177.40"/></clipPath>
<g clip-path="url(#c78)" stroke="#a6a6dc" stroke-width="1.20" opacity="1.00">
<path d="M-146.60 850.40L34.80 669.00M-134.80 850.40L46.60 669.00M-123.00 850.40L58.40 669.00M-111.20 850.40L70.20 669.00M-99.40 850.40L82.00 669.00M-87.60 850.40L93.80 669.00M-75.80 850.40L105.60 669.00M-64.00 850.40L117.40 669.00M-52.20 850.40L129.20 669.00M-40.40 850.40L141.00 669.00M-28.60 850.40L152.80 669.00M-16.80 850.40L164.60 669.00M-5.00 850.40L176.40 669.00M6.80 850.40L188.20 669.00M18.60 850.40L200.00 669.00M30.40 850.40L211.80 669.00M42.20 850.40L223.60 669.00M54.00 850.40L235.40 669.00M65.80 850.40L247.20 669.00M77.60 850.40L259.00 669.00M89.40 850.40L270.80 669.00M101.20 850.40L282.60 669.00M113.00 850.40L294.40 669.00M124.80 850.40L306.20 669.00M136.60 850.40L318.00 669.00M148.40 850.40L329.80 669.00M160.20 850.40L341.60 669.00M172.00 850.40L353.40 669.00M183.80 850.40L365.20 669.00M195.60 850.40L377.00 669.00M207.40 850.40L388.80 669.00M219.20 850.40L400.60 669.00M231.00 850.40L412.40 669.00M242.80 850.40L424.20 669.00M254.60 850.40L436.00 669.00M266.40 850.40L447.80 669.00M278.20 850.40L459.60 669.00M290.00 850.40L471.40 669.00M301.80 850.40L483.20 669.00M313.60 850.40L495.00 669.00M325.40 850.40L506.80 669.00M337.20 850.40L518.60 669.00M349.00 850.40L530.40 669.00M360.80 850.40L542.20 669.00M372.60 850.40L554.00 669.00M384.40 850.40L565.80 669.00M396.20 850.40L577.60 669.00M408.00 850.40L589.40 669.00M419.80 850.40L601.20 669.00M431.60 850.40L613.00 669.00M443.40 850.40L624.80 669.00M455.20 850.40L636.60 669.00M467.00 850.40L648.40 669.00M478.80 850.40L660.20 669.00M490.60 850.40L672.00 669.00M502.40 850.40L683.80 669.00M514.20 850.40L695.60 669.00M526.00 850.40L707.40 669.00M537.80 850.40L719.20 669.00M549.60 850.40L731.00 669.00M561.40 850.40L742.80 669.00M573.20 850.40L754.60 669.00M585.00 850.40L766.40 669.00M596.80 850.40L778.20 669.00M608.60 850.40L790.00 669.00M620.40 850.40L801.80 669.00M632.20 850.40L813.60 669.00M644.00 850.40L825.40 669.00M655.80 850.40L837.20 669.00M667.60 850.40L849.00 669.00M679.40 850.40L860.80 669.00" fill="none"/>
</g>
<g fill="#000"><circle cx="166.8" cy="704.2" r="1.82"/><circle cx="166.8" cy="755.7" r="1.82"/><circle cx="166.8" cy="776.5" r="1.82"/><circle cx="166.8" cy="787.9" r="1.82"/><circle cx="166.8" cy="792.9" r="1.82"/><circle cx="166.8" cy="825.8" r="1.82"/><circle cx="95.4" cy="814.4" r="1.82"/><circle cx="95.4" cy="836.7" r="1.82"/><circle cx="99.4" cy="839.3" r="1.82"/><circle cx="115.4" cy="831.2" r="1.82"/><circle cx="67.8" cy="846.6" r="1.82"/><circle cx="89.1" cy="850.3" r="1.82"/><circle cx="91.3" cy="850.3" r="1.82"/><circle cx="95.6" cy="855.3" r="1.82"/><circle cx="104.0" cy="850.5" r="1.82"/><circle cx="108.3" cy="847.2" r="1.82"/><circle cx="67.6" cy="857.5" r="1.82"/><circle cx="142.1" cy="845.9" r="1.82"/><circle cx="154.8" cy="844.4" r="1.82"/><circle cx="153.7" cy="855.3" r="1.82"/><circle cx="154.1" cy="857.5" r="1.82"/><circle cx="166.8" cy="846.6" r="1.82"/><circle cx="169.4" cy="850.3" r="1.82"/><circle cx="190.5" cy="852.0" r="1.82"/><circle cx="95.5" cy="860.4" r="1.82"/><circle cx="108.0" cy="864.3" r="1.82"/><circle cx="89.3" cy="867.2" r="1.82"/><circle cx="101.6" cy="867.8" r="1.82"/><circle cx="99.8" cy="870.1" r="1.82"/><circle cx="66.8" cy="872.8" r="1.82"/><circle cx="69.1" cy="876.8" r="1.82"/><circle cx="65.9" cy="880.3" r="1.82"/><circle cx="108.6" cy="875.6" r="1.82"/><circle cx="114.4" cy="875.6" r="1.82"/><circle cx="116.4" cy="885.3" r="1.82"/><circle cx="101.0" cy="883.8" r="1.82"/><circle cx="95.7" cy="886.5" r="1.82"/><circle cx="94.0" cy="888.8" r="1.82"/><circle cx="92.2" cy="890.8" r="1.82"/><circle cx="113.8" cy="890.5" r="1.82"/><circle cx="120.8" cy="889.4" r="1.82"/><circle cx="121.4" cy="894.0" r="1.82"/><circle cx="72.1" cy="892.0" r="1.82"/><circle cx="83.5" cy="892.3" r="1.82"/><circle cx="85.2" cy="892.9" r="1.82"/><circle cx="87.3" cy="892.3" r="1.82"/><circle cx="71.8" cy="896.2" r="1.82"/><circle cx="75.6" cy="895.5" r="1.82"/><circle cx="83.1" cy="896.4" r="1.82"/><circle cx="99.0" cy="896.4" r="1.82"/><circle cx="108.0" cy="897.0" r="1.82"/><circle cx="77.0" cy="900.8" r="1.82"/><circle cx="84.6" cy="901.6" r="1.82"/><circle cx="95.5" cy="902.2" r="1.82"/><circle cx="103.7" cy="901.6" r="1.82"/><circle cx="66.3" cy="908.6" r="1.82"/><circle cx="70.6" cy="908.6" r="1.82"/><circle cx="86.4" cy="905.7" r="1.82"/><circle cx="88.7" cy="906.3" r="1.82"/><circle cx="92.8" cy="906.3" r="1.82"/><circle cx="95.1" cy="907.5" r="1.82"/><circle cx="95.5" cy="909.8" r="1.82"/><circle cx="119.1" cy="902.2" r="1.82"/><circle cx="120.2" cy="905.7" r="1.82"/><circle cx="119.7" cy="909.2" r="1.82"/><circle cx="84.0" cy="912.2" r="1.82"/><circle cx="88.7" cy="911.8" r="1.82"/><circle cx="103.0" cy="912.2" r="1.82"/><circle cx="108.6" cy="912.5" r="1.82"/><circle cx="71.0" cy="916.0" r="1.82"/><circle cx="77.0" cy="916.0" r="1.82"/><circle cx="79.1" cy="917.6" r="1.82"/><circle cx="82.9" cy="920.3" r="1.82"/><circle cx="80.5" cy="921.8" r="1.82"/><circle cx="89.9" cy="915.7" r="1.82"/><circle cx="92.2" cy="918.0" r="1.82"/><circle cx="93.4" cy="919.7" r="1.82"/><circle cx="95.1" cy="920.3" r="1.82"/><circle cx="95.7" cy="915.7" r="1.82"/><circle cx="99.2" cy="913.3" r="1.82"/><circle cx="100.4" cy="918.0" r="1.82"/><circle cx="101.6" cy="919.2" r="1.82"/><circle cx="99.8" cy="920.3" r="1.82"/><circle cx="106.2" cy="919.2" r="1.82"/><circle cx="117.7" cy="916.8" r="1.82"/><circle cx="115.3" cy="922.7" r="1.82"/><circle cx="87.8" cy="925.0" r="1.82"/><circle cx="95.1" cy="924.4" r="1.82"/><circle cx="98.6" cy="924.4" r="1.82"/><circle cx="102.7" cy="923.2" r="1.82"/><circle cx="104.5" cy="925.0" r="1.82"/><circle cx="105.7" cy="925.6" r="1.82"/><circle cx="69.1" cy="925.6" r="1.82"/><circle cx="67.1" cy="929.1" r="1.82"/><circle cx="68.9" cy="932.0" r="1.82"/><circle cx="95.7" cy="927.9" r="1.82"/><circle cx="99.0" cy="930.3" r="1.82"/><circle cx="103.3" cy="928.9" r="1.82"/><circle cx="103.9" cy="931.4" r="1.82"/><circle cx="105.1" cy="933.2" r="1.82"/><circle cx="108.6" cy="931.2" r="1.82"/><circle cx="113.2" cy="928.5" r="1.82"/><circle cx="117.1" cy="932.4" r="1.82"/><circle cx="121.4" cy="925.0" r="1.82"/><circle cx="153.5" cy="861.4" r="1.82"/><circle cx="149.8" cy="862.8" r="1.82"/><circle cx="134.0" cy="868.6" r="1.82"/><circle cx="150.9" cy="868.9" r="1.82"/><circle cx="160.9" cy="869.3" r="1.82"/><circle cx="167.9" cy="868.9" r="1.82"/><circle cx="166.7" cy="871.6" r="1.82"/><circle cx="170.0" cy="870.1" r="1.82"/><circle cx="173.1" cy="866.3" r="1.82"/><circle cx="128.2" cy="876.3" r="1.82"/><circle cx="133.8" cy="879.5" r="1.82"/><circle cx="146.6" cy="877.5" r="1.82"/><circle cx="150.9" cy="872.4" r="1.82"/><circle cx="153.9" cy="874.4" r="1.82"/><circle cx="154.1" cy="877.7" r="1.82"/><circle cx="154.8" cy="881.4" r="1.82"/><circle cx="150.7" cy="884.1" r="1.82"/><circle cx="151.5" cy="885.3" r="1.82"/><circle cx="160.6" cy="883.5" r="1.82"/><circle cx="171.0" cy="879.1" r="1.82"/><circle cx="172.6" cy="882.6" r="1.82"/><circle cx="190.4" cy="875.1" r="1.82"/><circle cx="190.1" cy="876.3" r="1.82"/><circle cx="183.6" cy="886.1" r="1.82"/><circle cx="190.7" cy="885.9" r="1.82"/><circle cx="191.5" cy="890.0" r="1.82"/><circle cx="198.8" cy="888.8" r="1.82"/><circle cx="166.1" cy="886.5" r="1.82"/><circle cx="167.3" cy="888.8" r="1.82"/><circle cx="167.9" cy="890.8" r="1.82"/><circle cx="172.0" cy="887.6" r="1.82"/><circle cx="173.1" cy="888.0" r="1.82"/><circle cx="121.2" cy="889.4" r="1.82"/><circle cx="121.8" cy="894.0" r="1.82"/><circle cx="141.0" cy="890.0" r="1.82"/><circle cx="143.4" cy="891.7" r="1.82"/><circle cx="142.2" cy="895.0" r="1.82"/><circle cx="135.2" cy="892.9" r="1.82"/><circle cx="133.4" cy="896.2" r="1.82"/><circle cx="134.6" cy="897.3" r="1.82"/><circle cx="153.9" cy="889.4" r="1.82"/><circle cx="155.0" cy="892.6" r="1.82"/><circle cx="150.4" cy="892.3" r="1.82"/><circle cx="150.9" cy="895.0" r="1.82"/><circle cx="159.7" cy="890.8" r="1.82"/><circle cx="158.5" cy="893.8" r="1.82"/><circle cx="160.3" cy="895.2" r="1.82"/><circle cx="190.1" cy="896.4" r="1.82"/><circle cx="193.0" cy="897.6" r="1.82"/><circle cx="194.7" cy="899.3" r="1.82"/><circle cx="197.1" cy="896.4" r="1.82"/><circle cx="167.9" cy="896.2" r="1.82"/><circle cx="167.3" cy="899.3" r="1.82"/><circle cx="166.7" cy="902.2" r="1.82"/><circle cx="158.5" cy="897.6" r="1.82"/><circle cx="160.9" cy="899.9" r="1.82"/><circle cx="140.4" cy="898.1" r="1.82"/><circle cx="124.4" cy="899.3" r="1.82"/><circle cx="126.4" cy="900.5" r="1.82"/><circle cx="121.8" cy="902.2" r="1.82"/><circle cx="134.0" cy="901.1" r="1.82"/><circle cx="168.5" cy="900.5" r="1.82"/><circle cx="170.2" cy="901.6" r="1.82"/><circle cx="187.7" cy="902.8" r="1.82"/><circle cx="138.7" cy="905.1" r="1.82"/><circle cx="141.0" cy="908.1" r="1.82"/><circle cx="127.0" cy="905.7" r="1.82"/><circle cx="121.2" cy="908.6" r="1.82"/><circle cx="134.0" cy="907.5" r="1.82"/><circle cx="152.1" cy="905.1" r="1.82"/><circle cx="150.9" cy="909.2" r="1.82"/><circle cx="156.2" cy="906.9" r="1.82"/><circle cx="157.4" cy="911.0" r="1.82"/><circle cx="160.9" cy="905.7" r="1.82"/><circle cx="162.0" cy="908.6" r="1.82"/><circle cx="162.6" cy="911.6" r="1.82"/><circle cx="166.1" cy="906.3" r="1.82"/><circle cx="167.3" cy="908.6" r="1.82"/><circle cx="166.7" cy="911.6" r="1.82"/><circle cx="175.5" cy="908.6" r="1.82"/><circle cx="195.3" cy="909.8" r="1.82"/><circle cx="195.9" cy="908.6" r="1.82"/><circle cx="134.0" cy="912.2" r="1.82"/><circle cx="134.0" cy="913.9" r="1.82"/><circle cx="128.2" cy="915.7" r="1.82"/><circle cx="130.5" cy="916.5" r="1.82"/><circle cx="132.3" cy="916.8" r="1.82"/><circle cx="141.6" cy="914.8" r="1.82"/><circle cx="142.2" cy="917.4" r="1.82"/><circle cx="144.5" cy="916.8" r="1.82"/><circle cx="147.4" cy="918.0" r="1.82"/><circle cx="150.4" cy="919.7" r="1.82"/><circle cx="153.3" cy="915.7" r="1.82"/><circle cx="153.9" cy="919.2" r="1.82"/><circle cx="157.4" cy="916.5" r="1.82"/><circle cx="164.4" cy="915.7" r="1.82"/><circle cx="166.1" cy="916.2" r="1.82"/><circle cx="167.9" cy="917.4" r="1.82"/><circle cx="167.3" cy="919.7" r="1.82"/><circle cx="171.4" cy="917.4" r="1.82"/><circle cx="173.7" cy="916.8" r="1.82"/><circle cx="172.6" cy="919.7" r="1.82"/><circle cx="179.6" cy="919.7" r="1.82"/><circle cx="181.3" cy="918.3" r="1.82"/><circle cx="183.1" cy="918.6" r="1.82"/><circle cx="187.2" cy="913.9" r="1.82"/><circle cx="189.5" cy="918.0" r="1.82"/><circle cx="198.8" cy="920.3" r="1.82"/><circle cx="124.7" cy="925.6" r="1.82"/><circle cx="125.3" cy="927.9" r="1.82"/><circle cx="135.8" cy="921.5" r="1.82"/><circle cx="145.1" cy="922.1" r="1.82"/><circle cx="145.7" cy="925.6" r="1.82"/><circle cx="147.4" cy="926.8" r="1.82"/><circle cx="148.0" cy="923.2" r="1.82"/><circle cx="150.4" cy="922.7" r="1.82"/><circle cx="151.5" cy="925.6" r="1.82"/><circle cx="157.4" cy="925.0" r="1.82"/><circle cx="155.0" cy="928.9" r="1.82"/><circle cx="148.6" cy="929.1" r="1.82"/><circle cx="151.5" cy="930.0" r="1.82"/><circle cx="134.0" cy="928.5" r="1.82"/><circle cx="134.0" cy="931.4" r="1.82"/><circle cx="129.9" cy="933.2" r="1.82"/><circle cx="166.7" cy="929.1" r="1.82"/><circle cx="167.3" cy="932.0" r="1.82"/><circle cx="170.8" cy="927.3" r="1.82"/><circle cx="171.4" cy="930.3" r="1.82"/><circle cx="173.7" cy="932.0" r="1.82"/><circle cx="174.9" cy="922.1" r="1.82"/><circle cx="176.6" cy="925.6" r="1.82"/><circle cx="177.2" cy="927.9" r="1.82"/><circle cx="176.1" cy="929.1" r="1.82"/><circle cx="178.4" cy="924.4" r="1.82"/><circle cx="180.7" cy="930.3" r="1.82"/><circle cx="188.9" cy="924.4" r="1.82"/><circle cx="186.6" cy="929.1" r="1.82"/><circle cx="184.8" cy="933.2" r="1.82"/><circle cx="197.7" cy="929.1" r="1.82"/><circle cx="249.4" cy="854.1" r="1.82"/><circle cx="210.6" cy="863.5" r="1.82"/><circle cx="212.6" cy="878.3" r="1.82"/><circle cx="211.4" cy="880.3" r="1.82"/><circle cx="207.3" cy="884.5" r="1.82"/><circle cx="199.2" cy="888.8" r="1.82"/><circle cx="198.0" cy="895.8" r="1.82"/><circle cx="211.4" cy="888.2" r="1.82"/><circle cx="213.2" cy="888.0" r="1.82"/><circle cx="215.3" cy="889.1" r="1.82"/><circle cx="212.6" cy="892.6" r="1.82"/><circle cx="211.1" cy="895.8" r="1.82"/><circle cx="217.9" cy="898.7" r="1.82"/><circle cx="216.7" cy="901.1" r="1.82"/><circle cx="236.8" cy="865.8" r="1.82"/><circle cx="243.3" cy="869.5" r="1.82"/><circle cx="248.5" cy="866.6" r="1.82"/><circle cx="248.5" cy="869.5" r="1.82"/><circle cx="255.2" cy="870.5" r="1.82"/><circle cx="249.4" cy="874.4" r="1.82"/><circle cx="246.1" cy="879.5" r="1.82"/><circle cx="250.6" cy="880.3" r="1.82"/><circle cx="255.2" cy="877.9" r="1.82"/><circle cx="229.0" cy="881.0" r="1.82"/><circle cx="236.5" cy="887.3" r="1.82"/><circle cx="229.3" cy="890.0" r="1.82"/><circle cx="227.8" cy="891.7" r="1.82"/><circle cx="230.1" cy="890.5" r="1.82"/><circle cx="231.9" cy="897.3" r="1.82"/><circle cx="227.8" cy="898.7" r="1.82"/><circle cx="227.8" cy="900.5" r="1.82"/><circle cx="243.3" cy="891.1" r="1.82"/><circle cx="248.5" cy="891.1" r="1.82"/><circle cx="248.0" cy="897.3" r="1.82"/><circle cx="248.5" cy="899.7" r="1.82"/><circle cx="257.0" cy="888.8" r="1.82"/><circle cx="255.8" cy="891.7" r="1.82"/><circle cx="261.1" cy="892.3" r="1.82"/><circle cx="255.2" cy="898.1" r="1.82"/><circle cx="254.6" cy="901.6" r="1.82"/><circle cx="256.4" cy="905.5" r="1.82"/><circle cx="265.5" cy="898.1" r="1.82"/><circle cx="270.4" cy="895.0" r="1.82"/><circle cx="272.7" cy="898.1" r="1.82"/><circle cx="271.0" cy="899.9" r="1.82"/><circle cx="275.1" cy="897.6" r="1.82"/><circle cx="276.8" cy="893.5" r="1.82"/><circle cx="208.5" cy="904.0" r="1.82"/><circle cx="210.8" cy="906.9" r="1.82"/><circle cx="203.8" cy="906.3" r="1.82"/><circle cx="203.3" cy="908.1" r="1.82"/><circle cx="220.2" cy="906.9" r="1.82"/><circle cx="205.6" cy="915.7" r="1.82"/><circle cx="210.8" cy="915.1" r="1.82"/><circle cx="212.0" cy="914.5" r="1.82"/><circle cx="203.8" cy="918.6" r="1.82"/><circle cx="198.6" cy="919.7" r="1.82"/><circle cx="207.9" cy="922.1" r="1.82"/><circle cx="209.1" cy="923.2" r="1.82"/><circle cx="210.8" cy="922.7" r="1.82"/><circle cx="208.5" cy="925.6" r="1.82"/><circle cx="202.7" cy="925.6" r="1.82"/><circle cx="200.3" cy="927.9" r="1.82"/><circle cx="203.3" cy="929.1" r="1.82"/><circle cx="206.2" cy="930.3" r="1.82"/><circle cx="207.9" cy="931.4" r="1.82"/><circle cx="209.7" cy="930.8" r="1.82"/><circle cx="214.4" cy="932.4" r="1.82"/><circle cx="216.7" cy="920.7" r="1.82"/><circle cx="220.2" cy="921.1" r="1.82"/><circle cx="220.8" cy="916.5" r="1.82"/><circle cx="223.1" cy="922.3" r="1.82"/><circle cx="220.8" cy="927.3" r="1.82"/><circle cx="222.5" cy="930.3" r="1.82"/><circle cx="220.8" cy="932.0" r="1.82"/><circle cx="227.2" cy="926.8" r="1.82"/><circle cx="225.4" cy="929.1" r="1.82"/><circle cx="226.6" cy="932.4" r="1.82"/><circle cx="230.7" cy="912.5" r="1.82"/><circle cx="231.9" cy="916.8" r="1.82"/><circle cx="233.0" cy="915.7" r="1.82"/><circle cx="235.4" cy="908.1" r="1.82"/><circle cx="236.5" cy="910.4" r="1.82"/><circle cx="238.9" cy="912.2" r="1.82"/><circle cx="239.5" cy="906.3" r="1.82"/><circle cx="242.1" cy="916.5" r="1.82"/><circle cx="234.2" cy="923.0" r="1.82"/><circle cx="236.5" cy="922.1" r="1.82"/><circle cx="240.0" cy="920.7" r="1.82"/><circle cx="240.6" cy="925.6" r="1.82"/><circle cx="240.6" cy="930.3" r="1.82"/><circle cx="231.9" cy="930.8" r="1.82"/><circle cx="233.6" cy="932.0" r="1.82"/><circle cx="233.0" cy="930.3" r="1.82"/><circle cx="235.4" cy="932.6" r="1.82"/><circle cx="247.6" cy="916.8" r="1.82"/><circle cx="247.6" cy="919.7" r="1.82"/><circle cx="262.2" cy="904.6" r="1.82"/><circle cx="263.4" cy="908.1" r="1.82"/><circle cx="264.0" cy="909.2" r="1.82"/><circle cx="270.4" cy="905.7" r="1.82"/><circle cx="273.3" cy="906.3" r="1.82"/><circle cx="271.6" cy="908.6" r="1.82"/><circle cx="275.1" cy="905.7" r="1.82"/><circle cx="261.1" cy="916.2" r="1.82"/><circle cx="262.8" cy="918.0" r="1.82"/><circle cx="264.6" cy="916.8" r="1.82"/><circle cx="265.7" cy="918.6" r="1.82"/><circle cx="266.9" cy="916.2" r="1.82"/><circle cx="268.1" cy="918.0" r="1.82"/><circle cx="269.2" cy="920.3" r="1.82"/><circle cx="271.0" cy="919.7" r="1.82"/><circle cx="272.7" cy="917.4" r="1.82"/><circle cx="274.5" cy="915.1" r="1.82"/><circle cx="276.2" cy="913.3" r="1.82"/><circle cx="260.5" cy="919.7" r="1.82"/><circle cx="263.4" cy="920.9" r="1.82"/><circle cx="266.9" cy="922.7" r="1.82"/><circle cx="270.4" cy="922.1" r="1.82"/><circle cx="273.9" cy="923.2" r="1.82"/><circle cx="276.8" cy="921.5" r="1.82"/><circle cx="260.5" cy="925.0" r="1.82"/><circle cx="265.7" cy="925.0" r="1.82"/><circle cx="268.7" cy="925.6" r="1.82"/><circle cx="270.4" cy="924.4" r="1.82"/><circle cx="265.7" cy="928.5" r="1.82"/><circle cx="268.1" cy="930.8" r="1.82"/><circle cx="323.3" cy="845.6" r="1.82"/><circle cx="323.3" cy="848.5" r="1.82"/><circle cx="324.5" cy="856.4" r="1.82"/><circle cx="326.2" cy="859.2" r="1.82"/><circle cx="327.4" cy="860.2" r="1.82"/><circle cx="324.5" cy="868.6" r="1.82"/><circle cx="329.5" cy="869.9" r="1.82"/><circle cx="322.7" cy="875.6" r="1.82"/><circle cx="323.0" cy="877.5" r="1.82"/><circle cx="322.1" cy="880.0" r="1.82"/><circle cx="329.5" cy="876.3" r="1.82"/><circle cx="331.8" cy="882.1" r="1.82"/><circle cx="321.3" cy="885.6" r="1.82"/><circle cx="328.6" cy="891.1" r="1.82"/><circle cx="334.6" cy="888.8" r="1.82"/><circle cx="339.6" cy="888.2" r="1.82"/><circle cx="333.2" cy="896.4" r="1.82"/><circle cx="336.1" cy="896.4" r="1.82"/><circle cx="284.8" cy="879.5" r="1.82"/><circle cx="285.3" cy="883.0" r="1.82"/><circle cx="301.7" cy="882.1" r="1.82"/><circle cx="305.8" cy="881.4" r="1.82"/><circle cx="307.5" cy="880.3" r="1.82"/><circle cx="293.5" cy="888.0" r="1.82"/><circle cx="303.4" cy="885.9" r="1.82"/><circle cx="303.4" cy="888.8" r="1.82"/><circle cx="305.2" cy="891.1" r="1.82"/><circle cx="308.5" cy="894.3" r="1.82"/><circle cx="276.9" cy="893.1" r="1.82"/><circle cx="286.3" cy="896.4" r="1.82"/><circle cx="291.8" cy="894.6" r="1.82"/><circle cx="298.2" cy="896.4" r="1.82"/><circle cx="300.5" cy="894.6" r="1.82"/><circle cx="297.0" cy="899.9" r="1.82"/><circle cx="297.6" cy="901.6" r="1.82"/><circle cx="295.9" cy="902.8" r="1.82"/><circle cx="284.2" cy="902.8" r="1.82"/><circle cx="285.9" cy="904.0" r="1.82"/><circle cx="284.8" cy="907.5" r="1.82"/><circle cx="281.3" cy="907.5" r="1.82"/><circle cx="277.2" cy="906.3" r="1.82"/><circle cx="290.6" cy="906.9" r="1.82"/><circle cx="293.5" cy="908.1" r="1.82"/><circle cx="320.4" cy="899.0" r="1.82"/><circle cx="318.0" cy="902.8" r="1.82"/><circle cx="319.2" cy="904.0" r="1.82"/><circle cx="316.3" cy="905.7" r="1.82"/><circle cx="315.1" cy="908.6" r="1.82"/><circle cx="314.0" cy="911.6" r="1.82"/><circle cx="329.7" cy="906.3" r="1.82"/><circle cx="339.6" cy="903.0" r="1.82"/><circle cx="338.5" cy="905.7" r="1.82"/><circle cx="278.3" cy="912.2" r="1.82"/><circle cx="280.7" cy="912.2" r="1.82"/><circle cx="279.5" cy="915.1" r="1.82"/><circle cx="279.5" cy="918.0" r="1.82"/><circle cx="290.0" cy="914.1" r="1.82"/><circle cx="299.9" cy="913.9" r="1.82"/><circle cx="302.3" cy="912.7" r="1.82"/><circle cx="305.2" cy="910.4" r="1.82"/><circle cx="308.1" cy="908.6" r="1.82"/><circle cx="316.9" cy="914.8" r="1.82"/><circle cx="321.5" cy="916.5" r="1.82"/><circle cx="328.6" cy="916.8" r="1.82"/><circle cx="339.6" cy="914.5" r="1.82"/><circle cx="339.6" cy="916.2" r="1.82"/><circle cx="339.6" cy="918.0" r="1.82"/><circle cx="339.6" cy="919.7" r="1.82"/><circle cx="340.8" cy="920.9" r="1.82"/><circle cx="339.6" cy="922.7" r="1.82"/><circle cx="340.2" cy="924.4" r="1.82"/><circle cx="346.7" cy="916.2" r="1.82"/><circle cx="346.1" cy="921.1" r="1.82"/><circle cx="351.9" cy="911.0" r="1.82"/><circle cx="276.6" cy="920.9" r="1.82"/><circle cx="278.3" cy="923.2" r="1.82"/><circle cx="284.8" cy="920.3" r="1.82"/><circle cx="296.4" cy="920.7" r="1.82"/><circle cx="301.7" cy="923.0" r="1.82"/><circle cx="309.3" cy="923.5" r="1.82"/><circle cx="322.7" cy="922.1" r="1.82"/><circle cx="325.1" cy="922.7" r="1.82"/><circle cx="330.0" cy="921.8" r="1.82"/><circle cx="324.5" cy="926.2" r="1.82"/><circle cx="332.6" cy="925.8" r="1.82"/><circle cx="337.3" cy="925.6" r="1.82"/><circle cx="291.2" cy="924.6" r="1.82"/><circle cx="298.2" cy="928.2" r="1.82"/><circle cx="299.4" cy="930.8" r="1.82"/><circle cx="281.3" cy="927.7" r="1.82"/><circle cx="278.9" cy="931.2" r="1.82"/><circle cx="316.3" cy="927.9" r="1.82"/><circle cx="337.3" cy="933.2" r="1.82"/><circle cx="344.3" cy="932.0" r="1.82"/><circle cx="351.9" cy="922.1" r="1.82"/><circle cx="355.4" cy="922.1" r="1.82"/><circle cx="350.2" cy="927.3" r="1.82"/><circle cx="353.1" cy="926.8" r="1.82"/><circle cx="355.4" cy="927.3" r="1.82"/><circle cx="355.4" cy="897.0" r="1.82"/><circle cx="359.8" cy="859.0" r="1.82"/><circle cx="362.8" cy="859.6" r="1.82"/><circle cx="383.0" cy="860.4" r="1.82"/><circle cx="389.6" cy="862.8" r="1.82"/><circle cx="393.7" cy="868.6" r="1.82"/><circle cx="426.4" cy="865.8" r="1.82"/><circle cx="424.4" cy="875.1" r="1.82"/><circle cx="368.9" cy="865.8" r="1.82"/><circle cx="368.6" cy="869.5" r="1.82"/><circle cx="370.4" cy="869.3" r="1.82"/><circle cx="361.6" cy="874.2" r="1.82"/><circle cx="362.2" cy="876.3" r="1.82"/><circle cx="362.8" cy="877.7" r="1.82"/><circle cx="369.2" cy="877.7" r="1.82"/><circle cx="371.5" cy="878.6" r="1.82"/><circle cx="374.8" cy="881.0" r="1.82"/><circle cx="368.6" cy="882.1" r="1.82"/><circle cx="378.3" cy="884.1" r="1.82"/><circle cx="365.1" cy="885.3" r="1.82"/><circle cx="362.8" cy="889.4" r="1.82"/><circle cx="362.8" cy="892.3" r="1.82"/><circle cx="356.9" cy="897.0" r="1.82"/><circle cx="362.8" cy="897.3" r="1.82"/><circle cx="363.9" cy="899.3" r="1.82"/><circle cx="362.4" cy="904.6" r="1.82"/><circle cx="368.0" cy="895.2" r="1.82"/><circle cx="369.2" cy="894.6" r="1.82"/><circle cx="367.1" cy="901.1" r="1.82"/><circle cx="368.0" cy="903.4" r="1.82"/><circle cx="369.2" cy="905.7" r="1.82"/><circle cx="368.6" cy="907.5" r="1.82"/><circle cx="372.7" cy="897.6" r="1.82"/><circle cx="374.4" cy="899.9" r="1.82"/><circle cx="375.6" cy="890.0" r="1.82"/><circle cx="375.6" cy="894.0" r="1.82"/><circle cx="377.9" cy="896.4" r="1.82"/><circle cx="392.5" cy="883.0" r="1.82"/><circle cx="395.5" cy="883.5" r="1.82"/><circle cx="392.0" cy="885.9" r="1.82"/><circle cx="391.4" cy="888.2" r="1.82"/><circle cx="395.5" cy="892.3" r="1.82"/><circle cx="386.9" cy="895.8" r="1.82"/><circle cx="389.0" cy="898.7" r="1.82"/><circle cx="391.4" cy="898.1" r="1.82"/><circle cx="390.2" cy="899.9" r="1.82"/><circle cx="393.1" cy="901.6" r="1.82"/><circle cx="396.6" cy="901.6" r="1.82"/><circle cx="401.9" cy="888.8" r="1.82"/><circle cx="403.0" cy="888.0" r="1.82"/><circle cx="402.1" cy="897.6" r="1.82"/><circle cx="401.9" cy="901.6" r="1.82"/><circle cx="404.2" cy="902.5" r="1.82"/><circle cx="421.5" cy="888.0" r="1.82"/><circle cx="422.9" cy="892.9" r="1.82"/><circle cx="423.5" cy="895.0" r="1.82"/><circle cx="422.9" cy="898.1" r="1.82"/><circle cx="424.7" cy="899.9" r="1.82"/><circle cx="425.2" cy="902.2" r="1.82"/><circle cx="431.1" cy="889.4" r="1.82"/><circle cx="431.7" cy="891.1" r="1.82"/><circle cx="418.8" cy="902.5" r="1.82"/><circle cx="405.4" cy="906.3" r="1.82"/><circle cx="408.3" cy="906.9" r="1.82"/><circle cx="396.3" cy="906.3" r="1.82"/><circle cx="391.4" cy="908.6" r="1.82"/><circle cx="379.9" cy="906.3" r="1.82"/><circle cx="372.7" cy="908.6" r="1.82"/><circle cx="370.4" cy="911.0" r="1.82"/><circle cx="368.0" cy="911.6" r="1.82"/><circle cx="361.6" cy="912.7" r="1.82"/><circle cx="363.9" cy="916.8" r="1.82"/><circle cx="372.7" cy="912.7" r="1.82"/><circle cx="382.6" cy="912.5" r="1.82"/><circle cx="379.7" cy="915.1" r="1.82"/><circle cx="379.7" cy="917.4" r="1.82"/><circle cx="387.9" cy="913.9" r="1.82"/><circle cx="393.5" cy="915.3" r="1.82"/><circle cx="398.4" cy="913.0" r="1.82"/><circle cx="402.5" cy="910.4" r="1.82"/><circle cx="401.9" cy="913.3" r="1.82"/><circle cx="403.0" cy="913.9" r="1.82"/><circle cx="406.0" cy="912.2" r="1.82"/><circle cx="407.7" cy="911.6" r="1.82"/><circle cx="409.5" cy="911.0" r="1.82"/><circle cx="411.2" cy="912.2" r="1.82"/><circle cx="413.0" cy="912.7" r="1.82"/><circle cx="410.1" cy="913.9" r="1.82"/><circle cx="412.4" cy="914.8" r="1.82"/><circle cx="408.9" cy="915.7" r="1.82"/><circle cx="407.7" cy="917.4" r="1.82"/><circle cx="417.1" cy="911.0" r="1.82"/><circle cx="419.4" cy="908.1" r="1.82"/><circle cx="421.7" cy="906.9" r="1.82"/><circle cx="424.1" cy="906.3" r="1.82"/><circle cx="426.4" cy="905.7" r="1.82"/><circle cx="425.2" cy="904.0" r="1.82"/><circle cx="429.9" cy="900.5" r="1.82"/><circle cx="431.7" cy="902.2" r="1.82"/><circle cx="422.9" cy="915.7" r="1.82"/><circle cx="427.3" cy="918.3" r="1.82"/><circle cx="424.1" cy="921.1" r="1.82"/><circle cx="433.4" cy="924.4" r="1.82"/><circle cx="415.7" cy="921.1" r="1.82"/><circle cx="375.6" cy="918.3" r="1.82"/><circle cx="369.2" cy="921.9" r="1.82"/><circle cx="370.9" cy="922.3" r="1.82"/><circle cx="379.7" cy="922.1" r="1.82"/><circle cx="384.4" cy="920.3" r="1.82"/><circle cx="384.9" cy="923.2" r="1.82"/><circle cx="383.8" cy="924.4" r="1.82"/><circle cx="362.8" cy="921.5" r="1.82"/><circle cx="361.6" cy="923.5" r="1.82"/><circle cx="356.3" cy="922.1" r="1.82"/><circle cx="355.8" cy="926.2" r="1.82"/><circle cx="355.2" cy="928.5" r="1.82"/><circle cx="357.5" cy="930.3" r="1.82"/><circle cx="358.1" cy="932.6" r="1.82"/><circle cx="358.7" cy="931.4" r="1.82"/><circle cx="362.8" cy="926.8" r="1.82"/><circle cx="362.8" cy="929.1" r="1.82"/><circle cx="362.2" cy="930.8" r="1.82"/><circle cx="378.3" cy="928.2" r="1.82"/><circle cx="386.5" cy="931.2" r="1.82"/><circle cx="386.1" cy="932.4" r="1.82"/><circle cx="393.5" cy="925.4" r="1.82"/><circle cx="397.8" cy="923.0" r="1.82"/><circle cx="401.9" cy="919.2" r="1.82"/><circle cx="403.6" cy="920.9" r="1.82"/><circle cx="404.2" cy="923.2" r="1.82"/><circle cx="403.6" cy="925.6" r="1.82"/><circle cx="401.9" cy="926.2" r="1.82"/><circle cx="398.1" cy="927.9" r="1.82"/><circle cx="400.1" cy="928.9" r="1.82"/><circle cx="401.9" cy="929.1" r="1.82"/><circle cx="400.7" cy="932.0" r="1.82"/><circle cx="436.7" cy="850.3" r="1.82"/><circle cx="489.0" cy="860.4" r="1.82"/><circle cx="511.4" cy="846.2" r="1.82"/><circle cx="511.4" cy="854.3" r="1.82"/><circle cx="511.4" cy="859.0" r="1.82"/><circle cx="507.3" cy="868.4" r="1.82"/><circle cx="508.5" cy="870.1" r="1.82"/><circle cx="511.4" cy="878.9" r="1.82"/><circle cx="436.7" cy="878.3" r="1.82"/><circle cx="434.9" cy="882.1" r="1.82"/><circle cx="448.4" cy="882.1" r="1.82"/><circle cx="451.9" cy="878.9" r="1.82"/><circle cx="467.6" cy="879.1" r="1.82"/><circle cx="462.4" cy="885.9" r="1.82"/><circle cx="432.0" cy="890.0" r="1.82"/><circle cx="434.9" cy="896.4" r="1.82"/><circle cx="433.8" cy="899.7" r="1.82"/><circle cx="436.1" cy="900.8" r="1.82"/><circle cx="437.3" cy="902.2" r="1.82"/><circle cx="432.0" cy="902.2" r="1.82"/><circle cx="443.7" cy="893.5" r="1.82"/><circle cx="442.5" cy="895.2" r="1.82"/><circle cx="450.7" cy="891.7" r="1.82"/><circle cx="453.0" cy="891.1" r="1.82"/><circle cx="452.4" cy="892.9" r="1.82"/><circle cx="449.3" cy="895.2" r="1.82"/><circle cx="472.9" cy="889.6" r="1.82"/><circle cx="489.6" cy="891.1" r="1.82"/><circle cx="480.5" cy="894.6" r="1.82"/><circle cx="482.5" cy="895.5" r="1.82"/><circle cx="473.8" cy="895.5" r="1.82"/><circle cx="475.0" cy="899.0" r="1.82"/><circle cx="491.0" cy="898.7" r="1.82"/><circle cx="492.7" cy="899.0" r="1.82"/><circle cx="490.4" cy="901.6" r="1.82"/><circle cx="468.2" cy="902.2" r="1.82"/><circle cx="470.5" cy="902.8" r="1.82"/><circle cx="472.9" cy="904.6" r="1.82"/><circle cx="476.4" cy="905.1" r="1.82"/><circle cx="465.9" cy="904.6" r="1.82"/><circle cx="465.3" cy="907.5" r="1.82"/><circle cx="464.7" cy="911.0" r="1.82"/><circle cx="482.5" cy="906.0" r="1.82"/><circle cx="455.9" cy="905.5" r="1.82"/><circle cx="493.7" cy="913.0" r="1.82"/><circle cx="496.8" cy="915.7" r="1.82"/><circle cx="500.9" cy="916.8" r="1.82"/><circle cx="434.9" cy="915.1" r="1.82"/><circle cx="447.8" cy="915.7" r="1.82"/><circle cx="458.3" cy="912.5" r="1.82"/><circle cx="458.9" cy="916.8" r="1.82"/><circle cx="460.0" cy="919.7" r="1.82"/><circle cx="461.2" cy="921.5" r="1.82"/><circle cx="471.1" cy="914.5" r="1.82"/><circle cx="468.2" cy="916.8" r="1.82"/><circle cx="474.6" cy="914.5" r="1.82"/><circle cx="475.8" cy="916.2" r="1.82"/><circle cx="473.5" cy="917.4" r="1.82"/><circle cx="481.6" cy="913.3" r="1.82"/><circle cx="479.3" cy="917.4" r="1.82"/><circle cx="470.0" cy="920.9" r="1.82"/><circle cx="469.4" cy="923.2" r="1.82"/><circle cx="472.3" cy="920.9" r="1.82"/><circle cx="472.9" cy="923.2" r="1.82"/><circle cx="474.6" cy="922.7" r="1.82"/><circle cx="476.4" cy="925.6" r="1.82"/><circle cx="477.0" cy="923.8" r="1.82"/><circle cx="465.9" cy="924.7" r="1.82"/><circle cx="467.6" cy="926.8" r="1.82"/><circle cx="455.9" cy="922.7" r="1.82"/><circle cx="457.7" cy="926.8" r="1.82"/><circle cx="459.4" cy="927.3" r="1.82"/><circle cx="461.2" cy="928.5" r="1.82"/><circle cx="462.9" cy="930.3" r="1.82"/><circle cx="464.7" cy="932.6" r="1.82"/><circle cx="465.9" cy="930.8" r="1.82"/><circle cx="468.8" cy="929.1" r="1.82"/><circle cx="470.5" cy="932.0" r="1.82"/><circle cx="475.2" cy="929.3" r="1.82"/><circle cx="474.0" cy="931.2" r="1.82"/><circle cx="489.0" cy="921.1" r="1.82"/><circle cx="486.9" cy="928.9" r="1.82"/><circle cx="445.4" cy="925.6" r="1.82"/><circle cx="434.9" cy="923.3" r="1.82"/><circle cx="434.9" cy="924.8" r="1.82"/><circle cx="434.9" cy="926.6" r="1.82"/><circle cx="434.9" cy="928.0" r="1.82"/><circle cx="434.9" cy="928.3" r="1.82"/><circle cx="434.9" cy="931.3" r="1.82"/><circle cx="508.0" cy="888.0" r="1.82"/><circle cx="508.0" cy="892.1" r="1.82"/><circle cx="508.0" cy="893.5" r="1.82"/><circle cx="508.0" cy="896.8" r="1.82"/><circle cx="508.0" cy="899.2" r="1.82"/><circle cx="508.0" cy="900.9" r="1.82"/><circle cx="508.0" cy="904.7" r="1.82"/><circle cx="508.0" cy="905.9" r="1.82"/><circle cx="508.0" cy="908.5" r="1.82"/><circle cx="508.0" cy="912.6" r="1.82"/><circle cx="508.0" cy="914.4" r="1.82"/><circle cx="508.0" cy="916.4" r="1.82"/><circle cx="508.0" cy="919.7" r="1.82"/><circle cx="508.0" cy="922.2" r="1.82"/><circle cx="508.0" cy="923.2" r="1.82"/><circle cx="508.0" cy="927.8" r="1.82"/><circle cx="508.0" cy="929.4" r="1.82"/><circle cx="508.0" cy="931.0" r="1.82"/><circle cx="511.1" cy="842.0" r="1.82"/><circle cx="511.1" cy="844.3" r="1.82"/><circle cx="511.1" cy="846.7" r="1.82"/><circle cx="548.1" cy="840.3" r="1.82"/><circle cx="512.8" cy="850.2" r="1.82"/><circle cx="511.7" cy="853.7" r="1.82"/><circle cx="514.6" cy="853.7" r="1.82"/><circle cx="511.1" cy="859.5" r="1.82"/><circle cx="535.0" cy="857.8" r="1.82"/><circle cx="562.5" cy="859.8" r="1.82"/><circle cx="512.8" cy="867.1" r="1.82"/><circle cx="507.0" cy="868.3" r="1.82"/><circle cx="508.2" cy="870.6" r="1.82"/><circle cx="523.4" cy="873.5" r="1.82"/><circle cx="535.0" cy="871.2" r="1.82"/><circle cx="535.0" cy="874.7" r="1.82"/><circle cx="547.9" cy="876.1" r="1.82"/><circle cx="552.6" cy="876.1" r="1.82"/><circle cx="561.3" cy="875.0" r="1.82"/><circle cx="511.1" cy="878.8" r="1.82"/><circle cx="520.4" cy="882.9" r="1.82"/><circle cx="517.5" cy="885.8" r="1.82"/><circle cx="521.0" cy="885.5" r="1.82"/><circle cx="535.0" cy="881.1" r="1.82"/><circle cx="534.5" cy="885.2" r="1.82"/><circle cx="539.7" cy="882.9" r="1.82"/><circle cx="539.7" cy="885.8" r="1.82"/><circle cx="537.4" cy="886.4" r="1.82"/><circle cx="533.3" cy="888.1" r="1.82"/><circle cx="538.5" cy="888.7" r="1.82"/><circle cx="551.6" cy="886.2" r="1.82"/><circle cx="561.9" cy="888.5" r="1.82"/><circle cx="514.0" cy="893.4" r="1.82"/><circle cx="515.2" cy="895.1" r="1.82"/><circle cx="552.6" cy="892.8" r="1.82"/><circle cx="546.7" cy="894.0" r="1.82"/><circle cx="505.8" cy="899.8" r="1.82"/><circle cx="512.8" cy="901.3" r="1.82"/><circle cx="516.4" cy="902.2" r="1.82"/><circle cx="519.3" cy="904.5" r="1.82"/><circle cx="521.6" cy="908.6" r="1.82"/><circle cx="540.3" cy="899.0" r="1.82"/><circle cx="538.5" cy="902.7" r="1.82"/><circle cx="536.2" cy="905.7" r="1.82"/><circle cx="532.7" cy="907.4" r="1.82"/><circle cx="533.9" cy="909.7" r="1.82"/><circle cx="546.1" cy="899.2" r="1.82"/><circle cx="547.9" cy="900.4" r="1.82"/><circle cx="549.1" cy="902.7" r="1.82"/><circle cx="546.1" cy="905.7" r="1.82"/><circle cx="547.9" cy="906.8" r="1.82"/><circle cx="546.7" cy="909.7" r="1.82"/><circle cx="545.5" cy="911.5" r="1.82"/><circle cx="549.1" cy="908.6" r="1.82"/><circle cx="553.1" cy="907.4" r="1.82"/><circle cx="552.0" cy="909.7" r="1.82"/><circle cx="561.9" cy="898.1" r="1.82"/><circle cx="563.7" cy="899.8" r="1.82"/><circle cx="564.8" cy="902.2" r="1.82"/><circle cx="573.0" cy="896.9" r="1.82"/><circle cx="578.2" cy="895.7" r="1.82"/><circle cx="565.4" cy="907.4" r="1.82"/><circle cx="568.3" cy="911.5" r="1.82"/><circle cx="576.5" cy="903.9" r="1.82"/><circle cx="578.2" cy="905.1" r="1.82"/><circle cx="560.7" cy="912.1" r="1.82"/><circle cx="563.7" cy="912.1" r="1.82"/><circle cx="560.1" cy="916.2" r="1.82"/><circle cx="564.2" cy="918.2" r="1.82"/><circle cx="569.5" cy="921.2" r="1.82"/><circle cx="573.6" cy="915.0" r="1.82"/><circle cx="573.6" cy="919.1" r="1.82"/><circle cx="577.1" cy="912.7" r="1.82"/><circle cx="578.2" cy="916.8" r="1.82"/><circle cx="578.8" cy="914.4" r="1.82"/><circle cx="521.6" cy="916.8" r="1.82"/><circle cx="521.0" cy="919.7" r="1.82"/><circle cx="526.3" cy="922.0" r="1.82"/><circle cx="521.6" cy="925.5" r="1.82"/><circle cx="533.9" cy="916.8" r="1.82"/><circle cx="535.0" cy="922.8" r="1.82"/><circle cx="534.5" cy="926.1" r="1.82"/><circle cx="540.3" cy="912.1" r="1.82"/><circle cx="540.9" cy="915.6" r="1.82"/><circle cx="541.5" cy="921.4" r="1.82"/><circle cx="540.9" cy="923.8" r="1.82"/><circle cx="544.4" cy="926.1" r="1.82"/><circle cx="543.8" cy="930.8" r="1.82"/><circle cx="547.9" cy="912.7" r="1.82"/><circle cx="547.3" cy="917.3" r="1.82"/><circle cx="546.7" cy="920.3" r="1.82"/><circle cx="550.2" cy="916.8" r="1.82"/><circle cx="551.4" cy="921.4" r="1.82"/><circle cx="549.1" cy="919.1" r="1.82"/><circle cx="550.2" cy="929.6" r="1.82"/><circle cx="552.6" cy="931.9" r="1.82"/><circle cx="554.9" cy="926.1" r="1.82"/><circle cx="556.1" cy="930.8" r="1.82"/><circle cx="558.4" cy="928.4" r="1.82"/><circle cx="559.6" cy="924.9" r="1.82"/><circle cx="560.7" cy="928.4" r="1.82"/><circle cx="558.4" cy="931.9" r="1.82"/><circle cx="505.3" cy="926.1" r="1.82"/><circle cx="512.8" cy="932.5" r="1.82"/><circle cx="517.5" cy="930.5" r="1.82"/><circle cx="522.2" cy="932.2" r="1.82"/><circle cx="528.0" cy="930.2" r="1.82"/><circle cx="530.9" cy="931.9" r="1.82"/><circle cx="578.2" cy="930.8" r="1.82"/><circle cx="579.4" cy="932.0" r="1.82"/><circle cx="625.7" cy="833.3" r="1.82"/><circle cx="611.6" cy="838.0" r="1.82"/><circle cx="631.1" cy="845.3" r="1.82"/><circle cx="640.5" cy="845.0" r="1.82"/><circle cx="611.6" cy="849.4" r="1.82"/><circle cx="629.6" cy="853.1" r="1.82"/><circle cx="610.5" cy="858.3" r="1.82"/><circle cx="588.2" cy="861.9" r="1.82"/><circle cx="590.5" cy="866.6" r="1.82"/><circle cx="636.6" cy="859.8" r="1.82"/><circle cx="636.6" cy="862.2" r="1.82"/><circle cx="641.3" cy="861.9" r="1.82"/><circle cx="608.5" cy="873.9" r="1.82"/><circle cx="640.5" cy="873.1" r="1.82"/><circle cx="638.9" cy="876.3" r="1.82"/><circle cx="641.3" cy="877.8" r="1.82"/><circle cx="599.1" cy="876.3" r="1.82"/><circle cx="606.9" cy="880.2" r="1.82"/><circle cx="606.9" cy="882.5" r="1.82"/><circle cx="611.6" cy="880.9" r="1.82"/><circle cx="588.2" cy="887.2" r="1.82"/><circle cx="593.6" cy="886.9" r="1.82"/><circle cx="593.6" cy="889.5" r="1.82"/><circle cx="603.8" cy="887.2" r="1.82"/><circle cx="605.3" cy="891.1" r="1.82"/><circle cx="613.2" cy="888.8" r="1.82"/><circle cx="612.4" cy="890.0" r="1.82"/><circle cx="624.1" cy="888.4" r="1.82"/><circle cx="638.2" cy="887.5" r="1.82"/><circle cx="578.8" cy="895.3" r="1.82"/><circle cx="587.4" cy="896.6" r="1.82"/><circle cx="590.5" cy="895.0" r="1.82"/><circle cx="592.8" cy="894.2" r="1.82"/><circle cx="597.5" cy="894.2" r="1.82"/><circle cx="606.1" cy="895.8" r="1.82"/><circle cx="612.4" cy="894.7" r="1.82"/><circle cx="613.2" cy="897.3" r="1.82"/><circle cx="614.7" cy="896.6" r="1.82"/><circle cx="618.3" cy="894.2" r="1.82"/><circle cx="633.5" cy="895.8" r="1.82"/><circle cx="649.6" cy="893.8" r="1.82"/><circle cx="639.7" cy="899.4" r="1.82"/><circle cx="644.9" cy="900.5" r="1.82"/><circle cx="654.9" cy="900.9" r="1.82"/><circle cx="656.1" cy="905.6" r="1.82"/><circle cx="588.2" cy="902.0" r="1.82"/><circle cx="595.2" cy="902.0" r="1.82"/><circle cx="596.8" cy="901.3" r="1.82"/><circle cx="579.9" cy="903.6" r="1.82"/><circle cx="624.1" cy="900.5" r="1.82"/><circle cx="624.1" cy="902.8" r="1.82"/><circle cx="624.1" cy="905.9" r="1.82"/><circle cx="624.9" cy="907.5" r="1.82"/><circle cx="614.7" cy="904.4" r="1.82"/><circle cx="615.5" cy="906.3" r="1.82"/><circle cx="607.4" cy="905.2" r="1.82"/><circle cx="599.1" cy="905.9" r="1.82"/><circle cx="602.2" cy="909.1" r="1.82"/><circle cx="585.8" cy="906.7" r="1.82"/><circle cx="587.4" cy="910.3" r="1.82"/><circle cx="587.4" cy="913.4" r="1.82"/><circle cx="592.1" cy="910.3" r="1.82"/><circle cx="606.9" cy="910.3" r="1.82"/><circle cx="610.0" cy="909.8" r="1.82"/><circle cx="611.6" cy="910.6" r="1.82"/><circle cx="610.8" cy="913.8" r="1.82"/><circle cx="618.6" cy="909.8" r="1.82"/><circle cx="619.4" cy="913.0" r="1.82"/><circle cx="640.5" cy="905.9" r="1.82"/><circle cx="642.1" cy="909.1" r="1.82"/><circle cx="643.3" cy="910.3" r="1.82"/><circle cx="638.2" cy="913.4" r="1.82"/><circle cx="648.0" cy="915.3" r="1.82"/><circle cx="646.8" cy="917.7" r="1.82"/><circle cx="578.0" cy="915.3" r="1.82"/><circle cx="580.3" cy="915.6" r="1.82"/><circle cx="581.9" cy="915.3" r="1.82"/><circle cx="588.2" cy="918.1" r="1.82"/><circle cx="595.2" cy="920.0" r="1.82"/><circle cx="596.0" cy="923.1" r="1.82"/><circle cx="599.1" cy="918.1" r="1.82"/><circle cx="605.3" cy="917.7" r="1.82"/><circle cx="607.7" cy="920.0" r="1.82"/><circle cx="610.8" cy="919.2" r="1.82"/><circle cx="617.8" cy="918.4" r="1.82"/><circle cx="624.1" cy="918.8" r="1.82"/><circle cx="610.0" cy="924.4" r="1.82"/><circle cx="613.2" cy="927.0" r="1.82"/><circle cx="634.3" cy="923.9" r="1.82"/><circle cx="639.7" cy="923.9" r="1.82"/><circle cx="642.8" cy="920.0" r="1.82"/><circle cx="643.6" cy="923.1" r="1.82"/><circle cx="646.8" cy="923.9" r="1.82"/><circle cx="649.1" cy="924.7" r="1.82"/><circle cx="589.7" cy="927.8" r="1.82"/><circle cx="579.6" cy="929.4" r="1.82"/><circle cx="580.3" cy="932.2" r="1.82"/><circle cx="584.3" cy="931.3" r="1.82"/><circle cx="585.0" cy="929.4" r="1.82"/><circle cx="598.3" cy="930.2" r="1.82"/><circle cx="599.1" cy="931.7" r="1.82"/><circle cx="610.8" cy="930.9" r="1.82"/><circle cx="615.5" cy="931.3" r="1.82"/><circle cx="623.3" cy="932.5" r="1.82"/><circle cx="652.2" cy="930.6" r="1.82"/><circle cx="368.6" cy="761.3" r="1.82"/><circle cx="211.1" cy="830.4" r="1.82"/><circle cx="466.1" cy="833.3" r="1.82"/><circle cx="471.0" cy="840.0" r="1.82"/></g>
<g fill="#e41a1c"><circle cx="98.1" cy="862.3" r="1.90"/><circle cx="65.0" cy="871.3" r="1.90"/><circle cx="114.4" cy="880.6" r="1.90"/><circle cx="115.0" cy="883.0" r="1.90"/><circle cx="80.9" cy="902.8" r="1.90"/><circle cx="64.8" cy="906.0" r="1.90"/><circle cx="81.5" cy="909.5" r="1.90"/><circle cx="75.6" cy="914.8" r="1.90"/><circle cx="98.1" cy="917.4" r="1.90"/><circle cx="117.3" cy="925.4" r="1.90"/><circle cx="80.0" cy="925.6" r="1.90"/><circle cx="80.5" cy="932.4" r="1.90"/><circle cx="142.4" cy="878.9" r="1.90"/><circle cx="123.2" cy="882.4" r="1.90"/><circle cx="142.4" cy="885.6" r="1.90"/><circle cx="174.9" cy="892.9" r="1.90"/><circle cx="181.3" cy="891.5" r="1.90"/><circle cx="122.9" cy="903.4" r="1.90"/><circle cx="142.4" cy="904.3" r="1.90"/><circle cx="175.5" cy="906.9" r="1.90"/><circle cx="129.3" cy="918.3" r="1.90"/><circle cx="122.9" cy="923.8" r="1.90"/><circle cx="129.3" cy="922.7" r="1.90"/><circle cx="142.4" cy="931.4" r="1.90"/><circle cx="210.6" cy="861.1" r="1.90"/><circle cx="210.6" cy="873.6" r="1.90"/><circle cx="245.3" cy="876.0" r="1.90"/><circle cx="208.3" cy="912.5" r="1.90"/><circle cx="312.8" cy="921.1" r="1.90"/><circle cx="312.2" cy="932.4" r="1.90"/><circle cx="414.7" cy="857.3" r="1.90"/><circle cx="390.8" cy="893.8" r="1.90"/><circle cx="414.1" cy="889.1" r="1.90"/><circle cx="415.3" cy="890.3" r="1.90"/><circle cx="410.4" cy="902.2" r="1.90"/><circle cx="428.7" cy="906.3" r="1.90"/><circle cx="428.7" cy="922.3" r="1.90"/><circle cx="446.6" cy="881.8" r="1.90"/><circle cx="447.0" cy="887.6" r="1.90"/><circle cx="483.4" cy="904.6" r="1.90"/><circle cx="497.4" cy="909.8" r="1.90"/><circle cx="499.2" cy="910.4" r="1.90"/><circle cx="517.8" cy="849.6" r="1.90"/><circle cx="518.7" cy="882.9" r="1.90"/><circle cx="518.7" cy="896.0" r="1.90"/><circle cx="543.0" cy="902.5" r="1.90"/><circle cx="518.5" cy="915.6" r="1.90"/><circle cx="608.0" cy="867.7" r="1.90"/><circle cx="608.0" cy="871.6" r="1.90"/><circle cx="601.4" cy="894.2" r="1.90"/><circle cx="627.7" cy="895.5" r="1.90"/><circle cx="628.8" cy="915.6" r="1.90"/><circle cx="602.2" cy="923.1" r="1.90"/><circle cx="594.4" cy="880.9" r="1.50"/><circle cx="210.4" cy="836.1" r="1.90"/></g>
<line x1="42.00" y1="848.40" x2="681.00" y2="848.40" class="dashbg"/><line x1="42.00" y1="848.40" x2="681.00" y2="848.40" class="dash"/>
<path d="M92.4 782H116.4M165.6 782H168M344 781.8H431.6" stroke="#1818c8" stroke-width="2.3" fill="none"/>
<path class="ax" d="M41 670.2V942.9H682.6"/>
<line class="tk" x1="37.1" y1="933.90" x2="40" y2="933.90"/>
<text x="35.00" y="937.25" font-size="9.50" fill="#2a2a2a" text-anchor="end" >0</text>
<line class="tk" x1="37.1" y1="895.00" x2="40" y2="895.00"/>
<text x="35.00" y="898.35" font-size="9.50" fill="#2a2a2a" text-anchor="end" >1</text>
<line class="tk" x1="37.1" y1="856.20" x2="40" y2="856.20"/>
<text x="35.00" y="859.55" font-size="9.50" fill="#2a2a2a" text-anchor="end" >2</text>
<line class="tk" x1="37.1" y1="817.40" x2="40" y2="817.40"/>
<text x="35.00" y="820.75" font-size="9.50" fill="#2a2a2a" text-anchor="end" >3</text>
<line class="tk" x1="37.1" y1="778.50" x2="40" y2="778.50"/>
<text x="35.00" y="781.85" font-size="9.50" fill="#2a2a2a" text-anchor="end" >4</text>
<line class="tk" x1="37.1" y1="739.70" x2="40" y2="739.70"/>
<text x="35.00" y="743.05" font-size="9.50" fill="#2a2a2a" text-anchor="end" >5</text>
<line class="tk" x1="37.1" y1="700.50" x2="40" y2="700.50"/>
<text x="35.00" y="703.85" font-size="9.50" fill="#2a2a2a" text-anchor="end" >6</text>
<line class="tk" x1="64.40" y1="943.9" x2="64.40" y2="945.5"/>
<text x="64.40" y="953.20" font-size="12.70" fill="#222" text-anchor="middle" textLength="36.50" lengthAdjust="spacingAndGlyphs" >0e+00</text>
<line class="tk" x1="177.80" y1="943.9" x2="177.80" y2="945.5"/>
<text x="177.80" y="953.20" font-size="12.70" fill="#222" text-anchor="middle" textLength="36.50" lengthAdjust="spacingAndGlyphs" >2e+05</text>
<line class="tk" x1="291.20" y1="943.9" x2="291.20" y2="945.5"/>
<text x="291.20" y="953.20" font-size="12.70" fill="#222" text-anchor="middle" textLength="36.50" lengthAdjust="spacingAndGlyphs" >4e+05</text>
<line class="tk" x1="404.60" y1="943.9" x2="404.60" y2="945.5"/>
<text x="404.60" y="953.20" font-size="12.70" fill="#222" text-anchor="middle" textLength="36.50" lengthAdjust="spacingAndGlyphs" >6e+05</text>
<line class="tk" x1="518.00" y1="943.9" x2="518.00" y2="945.5"/>
<text x="518.00" y="953.20" font-size="12.70" fill="#222" text-anchor="middle" textLength="36.50" lengthAdjust="spacingAndGlyphs" >8e+05</text>
<line class="tk" x1="631.40" y1="943.9" x2="631.40" y2="945.5"/>
<text x="631.40" y="953.20" font-size="12.70" fill="#222" text-anchor="middle" textLength="34.00" lengthAdjust="spacingAndGlyphs" >1e+06</text>
<text x="112.20" y="975.80" font-size="20.00" fill="#000" text-anchor="start" textLength="497.90" lengthAdjust="spacingAndGlyphs" >C. trachomatis A/Har13 chromosome (bp from origin)</text>
<text x="23.50" y="881.00" font-size="18.40" fill="#000" text-anchor="start" textLength="147.00" lengthAdjust="spacingAndGlyphs" transform="rotate(-90 23.50 881.00)" >Standardised iHS</text>
<text x="2.10" y="688.30" font-size="22.00" fill="#000" text-anchor="start" font-weight="bold" textLength="15.10" lengthAdjust="spacingAndGlyphs" >C</text>
<line x1="521" y1="682" x2="537.3" y2="682" stroke="#4040c0" stroke-width="1.5"/>
<text x="546.40" y="686.00" font-size="9.50" fill="#1a1a1a" text-anchor="start" textLength="129.60" lengthAdjust="spacingAndGlyphs" >Region under positive selection</text>
</svg></body></html>
